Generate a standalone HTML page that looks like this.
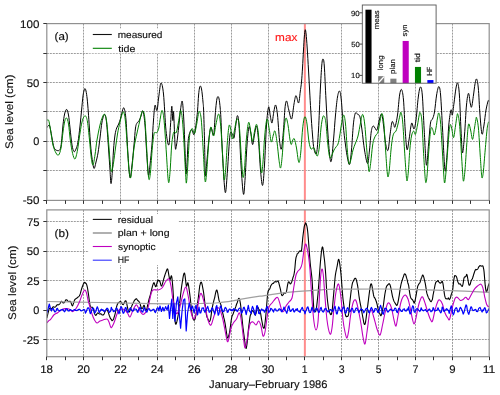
<!DOCTYPE html><html><head><meta charset="utf-8"><style>html,body{margin:0;padding:0;background:#fff;}svg{display:block;will-change:transform;}text{font-family:"Liberation Sans",sans-serif;text-rendering:geometricPrecision;}</style></head><body>
<svg width="500" height="395" viewBox="0 0 500 395">
<rect width="500" height="395" fill="#fff"/>
<defs><clipPath id="ct"><rect x="46.8" y="23.6" width="442.4" height="176.8"/></clipPath>
<clipPath id="cb"><rect x="46.8" y="209.9" width="442.4" height="146.8"/></clipPath>
<pattern id="hatch" patternUnits="userSpaceOnUse" width="3" height="3" patternTransform="rotate(45)"><rect width="3" height="3" fill="#fff"/><rect width="1.4" height="3" fill="#909090"/></pattern></defs>
<line x1="83.50" y1="23.60" x2="83.50" y2="200.40" stroke="#8a8a8a" stroke-width="0.85" stroke-dasharray="2 1"/>
<line x1="120.50" y1="23.60" x2="120.50" y2="200.40" stroke="#8a8a8a" stroke-width="0.85" stroke-dasharray="2 1"/>
<line x1="157.50" y1="23.60" x2="157.50" y2="200.40" stroke="#8a8a8a" stroke-width="0.85" stroke-dasharray="2 1"/>
<line x1="194.50" y1="23.60" x2="194.50" y2="200.40" stroke="#8a8a8a" stroke-width="0.85" stroke-dasharray="2 1"/>
<line x1="231.50" y1="23.60" x2="231.50" y2="200.40" stroke="#8a8a8a" stroke-width="0.85" stroke-dasharray="2 1"/>
<line x1="268.50" y1="23.60" x2="268.50" y2="200.40" stroke="#8a8a8a" stroke-width="0.85" stroke-dasharray="2 1"/>
<line x1="304.50" y1="23.60" x2="304.50" y2="200.40" stroke="#8a8a8a" stroke-width="0.85" stroke-dasharray="2 1"/>
<line x1="341.50" y1="23.60" x2="341.50" y2="200.40" stroke="#8a8a8a" stroke-width="0.85" stroke-dasharray="2 1"/>
<line x1="378.50" y1="23.60" x2="378.50" y2="200.40" stroke="#8a8a8a" stroke-width="0.85" stroke-dasharray="2 1"/>
<line x1="415.50" y1="23.60" x2="415.50" y2="200.40" stroke="#8a8a8a" stroke-width="0.85" stroke-dasharray="2 1"/>
<line x1="452.50" y1="23.60" x2="452.50" y2="200.40" stroke="#8a8a8a" stroke-width="0.85" stroke-dasharray="2 1"/>
<line x1="46.80" y1="53.50" x2="489.20" y2="53.50" stroke="#8a8a8a" stroke-width="0.85" stroke-dasharray="2 1"/>
<line x1="46.80" y1="82.50" x2="489.20" y2="82.50" stroke="#8a8a8a" stroke-width="0.85" stroke-dasharray="2 1"/>
<line x1="46.80" y1="111.50" x2="489.20" y2="111.50" stroke="#8a8a8a" stroke-width="0.85" stroke-dasharray="2 1"/>
<line x1="46.80" y1="141.50" x2="489.20" y2="141.50" stroke="#8a8a8a" stroke-width="0.85" stroke-dasharray="2 1"/>
<line x1="46.80" y1="170.50" x2="489.20" y2="170.50" stroke="#8a8a8a" stroke-width="0.85" stroke-dasharray="2 1"/>
<line x1="83.50" y1="209.90" x2="83.50" y2="356.70" stroke="#8a8a8a" stroke-width="0.85" stroke-dasharray="2 1"/>
<line x1="120.50" y1="209.90" x2="120.50" y2="356.70" stroke="#8a8a8a" stroke-width="0.85" stroke-dasharray="2 1"/>
<line x1="157.50" y1="209.90" x2="157.50" y2="356.70" stroke="#8a8a8a" stroke-width="0.85" stroke-dasharray="2 1"/>
<line x1="194.50" y1="209.90" x2="194.50" y2="356.70" stroke="#8a8a8a" stroke-width="0.85" stroke-dasharray="2 1"/>
<line x1="231.50" y1="209.90" x2="231.50" y2="356.70" stroke="#8a8a8a" stroke-width="0.85" stroke-dasharray="2 1"/>
<line x1="268.50" y1="209.90" x2="268.50" y2="356.70" stroke="#8a8a8a" stroke-width="0.85" stroke-dasharray="2 1"/>
<line x1="304.50" y1="209.90" x2="304.50" y2="356.70" stroke="#8a8a8a" stroke-width="0.85" stroke-dasharray="2 1"/>
<line x1="341.50" y1="209.90" x2="341.50" y2="356.70" stroke="#8a8a8a" stroke-width="0.85" stroke-dasharray="2 1"/>
<line x1="378.50" y1="209.90" x2="378.50" y2="356.70" stroke="#8a8a8a" stroke-width="0.85" stroke-dasharray="2 1"/>
<line x1="415.50" y1="209.90" x2="415.50" y2="356.70" stroke="#8a8a8a" stroke-width="0.85" stroke-dasharray="2 1"/>
<line x1="452.50" y1="209.90" x2="452.50" y2="356.70" stroke="#8a8a8a" stroke-width="0.85" stroke-dasharray="2 1"/>
<line x1="46.80" y1="221.50" x2="489.20" y2="221.50" stroke="#8a8a8a" stroke-width="0.85" stroke-dasharray="2 1"/>
<line x1="46.80" y1="251.50" x2="489.20" y2="251.50" stroke="#8a8a8a" stroke-width="0.85" stroke-dasharray="2 1"/>
<line x1="46.80" y1="280.50" x2="489.20" y2="280.50" stroke="#8a8a8a" stroke-width="0.85" stroke-dasharray="2 1"/>
<line x1="46.80" y1="310.50" x2="489.20" y2="310.50" stroke="#8a8a8a" stroke-width="0.85" stroke-dasharray="2 1"/>
<line x1="46.80" y1="339.50" x2="489.20" y2="339.50" stroke="#8a8a8a" stroke-width="0.85" stroke-dasharray="2 1"/>
<line x1="304.87" y1="23.60" x2="304.87" y2="200.40" stroke="#ff8c8c" stroke-width="2"/>
<line x1="304.87" y1="209.90" x2="304.87" y2="356.70" stroke="#ff8c8c" stroke-width="2"/>
<g clip-path="url(#ct)" fill="none" stroke-linejoin="round">
<path d="M46.80,127.50 C47.00,127.30 47.58,126.72 48.00,126.30 C48.42,125.88 48.87,124.38 49.30,125.00 C49.73,125.62 50.15,127.83 50.60,130.00 C51.05,132.17 51.43,135.08 52.00,138.00 C52.57,140.92 53.17,145.42 54.00,147.50 C54.83,149.58 56.00,150.17 57.00,150.50 C58.00,150.83 59.25,150.92 60.00,149.50 C60.75,148.08 61.00,146.08 61.50,142.00 C62.00,137.92 62.48,129.67 63.00,125.00 C63.52,120.33 64.00,116.60 64.60,114.00 C65.20,111.40 65.95,109.23 66.60,109.40 C67.25,109.57 67.93,111.90 68.50,115.00 C69.07,118.10 69.42,123.00 70.00,128.00 C70.58,133.00 71.33,141.07 72.00,145.00 C72.67,148.93 73.33,150.93 74.00,151.60 C74.67,152.27 75.33,150.60 76.00,149.00 C76.67,147.40 77.33,145.83 78.00,142.00 C78.67,138.17 79.40,131.33 80.00,126.00 C80.60,120.67 81.10,115.00 81.60,110.00 C82.10,105.00 82.57,99.33 83.00,96.00 C83.43,92.67 83.87,91.23 84.20,90.00 C84.53,88.77 84.70,88.43 85.00,88.60 C85.30,88.77 85.63,89.27 86.00,91.00 C86.37,92.73 86.82,95.50 87.20,99.00 C87.58,102.50 87.93,107.17 88.30,112.00 C88.67,116.83 89.02,122.50 89.40,128.00 C89.78,133.50 90.17,140.00 90.60,145.00 C91.03,150.00 91.43,154.10 92.00,158.00 C92.57,161.90 93.33,167.73 94.00,168.40 C94.67,169.07 95.33,164.57 96.00,162.00 C96.67,159.43 97.33,157.00 98.00,153.00 C98.67,149.00 99.33,143.17 100.00,138.00 C100.67,132.83 101.23,125.93 102.00,122.00 C102.77,118.07 103.85,114.40 104.60,114.40 C105.35,114.40 105.85,116.40 106.50,122.00 C107.15,127.60 107.92,140.00 108.50,148.00 C109.08,156.00 109.58,164.07 110.00,170.00 C110.42,175.93 110.62,183.27 111.00,183.60 C111.38,183.93 111.88,177.60 112.30,172.00 C112.72,166.40 113.05,156.17 113.50,150.00 C113.95,143.83 114.47,138.67 115.00,135.00 C115.53,131.33 116.08,129.83 116.70,128.00 C117.32,126.17 118.03,125.67 118.70,124.00 C119.37,122.33 120.05,120.33 120.70,118.00 C121.35,115.67 122.02,111.60 122.60,110.00 C123.18,108.40 123.63,106.73 124.20,108.40 C124.77,110.07 125.37,112.23 126.00,120.00 C126.63,127.77 127.33,145.40 128.00,155.00 C128.67,164.60 129.33,175.93 130.00,177.60 C130.67,179.27 131.33,170.43 132.00,165.00 C132.67,159.57 133.42,151.17 134.00,145.00 C134.58,138.83 135.00,131.67 135.50,128.00 C136.00,124.33 136.42,124.17 137.00,123.00 C137.58,121.83 138.33,122.17 139.00,121.00 C139.67,119.83 140.33,117.67 141.00,116.00 C141.67,114.33 142.33,109.50 143.00,111.00 C143.67,112.50 144.42,118.50 145.00,125.00 C145.58,131.50 145.93,141.67 146.50,150.00 C147.07,158.33 147.82,172.50 148.40,175.00 C148.98,177.50 149.40,170.17 150.00,165.00 C150.60,159.83 151.42,151.50 152.00,144.00 C152.58,136.50 153.00,126.45 153.50,120.00 C154.00,113.55 154.42,106.90 155.00,105.30 C155.58,103.70 156.33,112.12 157.00,110.40 C157.67,108.68 158.33,99.57 159.00,95.00 C159.67,90.43 160.25,83.17 161.00,83.00 C161.75,82.83 162.67,86.07 163.50,94.00 C164.33,101.93 165.12,122.10 166.00,130.60 C166.88,139.10 168.05,145.93 168.80,145.00 C169.55,144.07 170.00,131.45 170.50,125.00 C171.00,118.55 171.42,107.05 171.80,106.30 C172.18,105.55 172.50,119.48 172.80,120.50 C173.10,121.52 173.20,108.02 173.60,112.40 C174.00,116.78 174.72,141.37 175.20,146.80 C175.68,152.23 175.98,147.70 176.50,145.00 C177.02,142.30 177.63,136.43 178.30,130.60 C178.97,124.77 179.83,114.88 180.50,110.00 C181.17,105.12 181.75,99.63 182.30,101.30 C182.85,102.97 183.35,111.88 183.80,120.00 C184.25,128.12 184.63,141.00 185.00,150.00 C185.37,159.00 185.63,172.33 186.00,174.00 C186.37,175.67 186.80,165.88 187.20,160.00 C187.60,154.12 187.70,143.77 188.40,138.70 C189.10,133.63 190.48,130.27 191.40,129.60 C192.32,128.93 193.22,134.97 193.90,134.70 C194.58,134.43 195.02,130.78 195.50,128.00 C195.98,125.22 196.45,121.00 196.80,118.00 C197.15,115.00 197.30,113.83 197.60,110.00 C197.90,106.17 198.28,98.67 198.60,95.00 C198.92,91.33 199.20,89.50 199.50,88.00 C199.80,86.50 200.10,86.00 200.40,86.00 C200.70,86.00 201.02,86.83 201.30,88.00 C201.58,89.17 201.82,90.67 202.10,93.00 C202.38,95.33 202.75,99.17 203.00,102.00 C203.25,104.83 203.35,103.67 203.60,110.00 C203.85,116.33 204.20,129.07 204.50,140.00 C204.80,150.93 204.98,172.27 205.40,175.60 C205.82,178.93 206.40,166.27 207.00,160.00 C207.60,153.73 208.33,143.40 209.00,138.00 C209.67,132.60 210.23,128.10 211.00,127.60 C211.77,127.10 212.93,136.60 213.60,135.00 C214.27,133.40 214.63,122.50 215.00,118.00 C215.37,113.50 215.48,111.17 215.80,108.00 C216.12,104.83 216.53,100.90 216.90,99.00 C217.27,97.10 217.63,96.60 218.00,96.60 C218.37,96.60 218.73,97.10 219.10,99.00 C219.47,100.90 219.88,104.50 220.20,108.00 C220.52,111.50 220.70,113.83 221.00,120.00 C221.30,126.17 221.50,135.00 222.00,145.00 C222.50,155.00 223.40,172.10 224.00,180.00 C224.60,187.90 225.02,194.07 225.60,192.40 C226.18,190.73 226.77,179.57 227.50,170.00 C228.23,160.43 229.18,141.00 230.00,135.00 C230.82,129.00 231.73,133.50 232.40,134.00 C233.07,134.50 233.43,139.50 234.00,138.00 C234.57,136.50 235.23,128.73 235.80,125.00 C236.37,121.27 236.87,115.60 237.40,115.60 C237.93,115.60 238.40,116.77 239.00,125.00 C239.60,133.23 240.27,153.50 241.00,165.00 C241.73,176.50 242.73,191.50 243.40,194.00 C244.07,196.50 244.40,188.17 245.00,180.00 C245.60,171.83 246.33,153.83 247.00,145.00 C247.67,136.17 248.37,129.00 249.00,127.00 C249.63,125.00 250.20,130.07 250.80,133.00 C251.40,135.93 251.97,144.43 252.60,144.60 C253.23,144.77 253.93,137.10 254.60,134.00 C255.27,130.90 255.95,125.00 256.60,126.00 C257.25,127.00 257.85,132.67 258.50,140.00 C259.15,147.33 259.82,162.43 260.50,170.00 C261.18,177.57 261.93,186.23 262.60,185.40 C263.27,184.57 263.85,175.07 264.50,165.00 C265.15,154.93 265.82,134.67 266.50,125.00 C267.18,115.33 267.97,108.50 268.60,107.00 C269.23,105.50 269.73,113.33 270.30,116.00 C270.87,118.67 271.42,123.67 272.00,123.00 C272.58,122.33 273.20,115.00 273.80,112.00 C274.40,109.00 274.98,104.50 275.60,105.00 C276.22,105.50 276.85,109.17 277.50,115.00 C278.15,120.83 278.85,134.33 279.50,140.00 C280.15,145.67 280.73,150.67 281.40,149.00 C282.07,147.33 282.90,136.83 283.50,130.00 C284.10,123.17 284.48,112.83 285.00,108.00 C285.52,103.17 285.97,100.67 286.60,101.00 C287.23,101.33 287.97,107.00 288.80,110.00 C289.63,113.00 290.73,120.00 291.60,119.00 C292.47,118.00 293.27,107.90 294.00,104.00 C294.73,100.10 295.23,95.77 296.00,95.60 C296.77,95.43 297.90,103.60 298.60,103.00 C299.30,102.40 299.72,95.50 300.20,92.00 C300.68,88.50 301.12,86.00 301.50,82.00 C301.88,78.00 302.17,73.33 302.50,68.00 C302.83,62.67 303.20,55.17 303.50,50.00 C303.80,44.83 304.02,40.37 304.30,37.00 C304.58,33.63 304.90,30.30 305.20,29.80 C305.50,29.30 305.77,30.97 306.10,34.00 C306.43,37.03 306.80,42.00 307.20,48.00 C307.60,54.00 308.10,63.00 308.50,70.00 C308.90,77.00 309.22,83.17 309.60,90.00 C309.98,96.83 310.32,103.50 310.80,111.00 C311.28,118.50 311.97,128.67 312.50,135.00 C313.03,141.33 313.32,146.00 314.00,149.00 C314.68,152.00 315.85,156.17 316.60,153.00 C317.35,149.83 317.88,140.50 318.50,130.00 C319.12,119.50 319.75,100.83 320.30,90.00 C320.85,79.17 321.35,70.17 321.80,65.00 C322.25,59.83 322.58,58.83 323.00,59.00 C323.42,59.17 323.80,59.17 324.30,66.00 C324.80,72.83 325.38,88.50 326.00,100.00 C326.62,111.50 327.33,125.33 328.00,135.00 C328.67,144.67 329.42,153.83 330.00,158.00 C330.58,162.17 330.92,163.00 331.50,160.00 C332.08,157.00 332.83,147.50 333.50,140.00 C334.17,132.50 334.83,122.17 335.50,115.00 C336.17,107.83 336.82,101.00 337.50,97.00 C338.18,93.00 338.97,90.50 339.60,91.00 C340.23,91.50 340.70,94.33 341.30,100.00 C341.90,105.67 342.50,117.50 343.20,125.00 C343.90,132.50 344.78,139.50 345.50,145.00 C346.22,150.50 346.82,154.77 347.50,158.00 C348.18,161.23 348.93,165.73 349.60,164.40 C350.27,163.07 350.88,156.57 351.50,150.00 C352.12,143.43 352.72,131.00 353.30,125.00 C353.88,119.00 354.47,116.00 355.00,114.00 C355.53,112.00 355.92,112.83 356.50,113.00 C357.08,113.17 357.92,114.33 358.50,115.00 C359.08,115.67 359.42,114.50 360.00,117.00 C360.58,119.50 361.25,124.50 362.00,130.00 C362.75,135.50 363.57,144.40 364.50,150.00 C365.43,155.60 366.77,163.60 367.60,163.60 C368.43,163.60 368.90,155.27 369.50,150.00 C370.10,144.73 370.62,136.00 371.20,132.00 C371.78,128.00 372.37,126.67 373.00,126.00 C373.63,125.33 374.33,127.33 375.00,128.00 C375.67,128.67 376.28,131.33 377.00,130.00 C377.72,128.67 378.53,122.67 379.30,120.00 C380.07,117.33 380.90,113.17 381.60,114.00 C382.30,114.83 382.85,120.17 383.50,125.00 C384.15,129.83 384.75,138.77 385.50,143.00 C386.25,147.23 387.25,151.73 388.00,150.40 C388.75,149.07 389.33,139.73 390.00,135.00 C390.67,130.27 391.40,123.83 392.00,122.00 C392.60,120.17 393.10,123.17 393.60,124.00 C394.10,124.83 394.35,128.50 395.00,127.00 C395.65,125.50 396.73,120.33 397.50,115.00 C398.27,109.67 398.92,99.23 399.60,95.00 C400.28,90.77 400.95,88.77 401.60,89.60 C402.25,90.43 402.90,93.27 403.50,100.00 C404.10,106.73 404.62,121.73 405.20,130.00 C405.78,138.27 406.37,147.93 407.00,149.60 C407.63,151.27 408.37,143.77 409.00,140.00 C409.63,136.23 410.30,129.83 410.80,127.00 C411.30,124.17 411.47,122.67 412.00,123.00 C412.53,123.33 413.33,129.50 414.00,129.00 C414.67,128.50 415.28,125.33 416.00,120.00 C416.72,114.67 417.57,102.50 418.30,97.00 C419.03,91.50 419.73,87.33 420.40,87.00 C421.07,86.67 421.67,87.83 422.30,95.00 C422.93,102.17 423.52,118.33 424.20,130.00 C424.88,141.67 425.68,162.50 426.40,165.00 C427.12,167.50 427.82,152.00 428.50,145.00 C429.18,138.00 429.83,127.33 430.50,123.00 C431.17,118.67 431.83,120.83 432.50,119.00 C433.17,117.17 433.82,116.00 434.50,112.00 C435.18,108.00 435.88,99.23 436.60,95.00 C437.32,90.77 438.13,86.60 438.80,86.60 C439.47,86.60 439.97,87.77 440.60,95.00 C441.23,102.23 441.87,117.43 442.60,130.00 C443.33,142.57 444.27,166.23 445.00,170.40 C445.73,174.57 446.37,162.57 447.00,155.00 C447.63,147.43 448.13,132.50 448.80,125.00 C449.47,117.50 450.42,111.67 451.00,110.00 C451.58,108.33 451.80,116.17 452.30,115.00 C452.80,113.83 453.38,107.50 454.00,103.00 C454.62,98.50 455.38,91.33 456.00,88.00 C456.62,84.67 457.13,81.83 457.70,83.00 C458.27,84.17 458.85,87.17 459.40,95.00 C459.95,102.83 460.48,120.37 461.00,130.00 C461.52,139.63 461.92,151.97 462.50,152.80 C463.08,153.63 463.83,142.97 464.50,135.00 C465.17,127.03 465.83,111.95 466.50,105.00 C467.17,98.05 467.88,93.63 468.50,93.30 C469.12,92.97 469.68,100.72 470.20,103.00 C470.72,105.28 471.05,108.33 471.60,107.00 C472.15,105.67 472.93,98.83 473.50,95.00 C474.07,91.17 474.48,86.67 475.00,84.00 C475.52,81.33 476.05,78.33 476.60,79.00 C477.15,79.67 477.73,82.00 478.30,88.00 C478.87,94.00 479.38,107.33 480.00,115.00 C480.62,122.67 481.33,132.33 482.00,134.00 C482.67,135.67 483.33,129.00 484.00,125.00 C484.67,121.00 485.28,114.08 486.00,110.00 C486.72,105.92 487.77,101.83 488.30,100.50 C488.83,99.17 489.05,101.75 489.20,102.00" stroke="#000" stroke-width="1.0"/>
<path d="M46.80,121.00 C46.97,120.77 47.43,119.52 47.80,119.60 C48.17,119.68 48.55,119.77 49.00,121.50 C49.45,123.23 49.83,126.08 50.50,130.00 C51.17,133.92 52.08,141.17 53.00,145.00 C53.92,148.83 55.07,151.33 56.00,153.00 C56.93,154.67 57.77,155.83 58.60,155.00 C59.43,154.17 60.27,151.83 61.00,148.00 C61.73,144.17 62.37,136.50 63.00,132.00 C63.63,127.50 64.20,123.33 64.80,121.00 C65.40,118.67 65.98,117.50 66.60,118.00 C67.22,118.50 67.88,120.33 68.50,124.00 C69.12,127.67 69.63,135.17 70.30,140.00 C70.97,144.83 71.72,149.83 72.50,153.00 C73.28,156.17 74.17,159.50 75.00,159.00 C75.83,158.50 76.67,154.33 77.50,150.00 C78.33,145.67 79.25,137.67 80.00,133.00 C80.75,128.33 81.37,124.67 82.00,122.00 C82.63,119.33 83.20,118.00 83.80,117.00 C84.40,116.00 84.98,115.17 85.60,116.00 C86.22,116.83 86.85,118.00 87.50,122.00 C88.15,126.00 88.87,134.00 89.50,140.00 C90.13,146.00 90.72,153.83 91.30,158.00 C91.88,162.17 92.38,165.50 93.00,165.00 C93.62,164.50 94.33,159.17 95.00,155.00 C95.67,150.83 96.17,145.00 97.00,140.00 C97.83,135.00 99.08,128.83 100.00,125.00 C100.92,121.17 101.73,118.77 102.50,117.00 C103.27,115.23 103.90,113.57 104.60,114.40 C105.30,115.23 106.00,116.90 106.70,122.00 C107.40,127.10 108.22,138.17 108.80,145.00 C109.38,151.83 109.73,158.57 110.20,163.00 C110.67,167.43 111.05,171.60 111.60,171.60 C112.15,171.60 112.85,166.93 113.50,163.00 C114.15,159.07 114.83,152.83 115.50,148.00 C116.17,143.17 116.75,138.33 117.50,134.00 C118.25,129.67 119.28,125.17 120.00,122.00 C120.72,118.83 121.20,116.67 121.80,115.00 C122.40,113.33 122.98,110.83 123.60,112.00 C124.22,113.17 124.85,115.67 125.50,122.00 C126.15,128.33 126.92,142.00 127.50,150.00 C128.08,158.00 128.50,165.33 129.00,170.00 C129.50,174.67 130.00,178.33 130.50,178.00 C131.00,177.67 131.42,173.00 132.00,168.00 C132.58,163.00 133.17,153.83 134.00,148.00 C134.83,142.17 136.08,137.33 137.00,133.00 C137.92,128.67 138.78,125.17 139.50,122.00 C140.22,118.83 140.72,115.83 141.30,114.00 C141.88,112.17 142.42,110.33 143.00,111.00 C143.58,111.67 144.22,112.33 144.80,118.00 C145.38,123.67 146.00,136.67 146.50,145.00 C147.00,153.33 147.38,162.23 147.80,168.00 C148.22,173.77 148.55,178.93 149.00,179.60 C149.45,180.27 149.95,177.27 150.50,172.00 C151.05,166.73 151.72,154.33 152.30,148.00 C152.88,141.67 153.47,136.58 154.00,134.00 C154.53,131.42 155.00,132.77 155.50,132.50 C156.00,132.23 156.45,133.15 157.00,132.40 C157.55,131.65 158.22,130.57 158.80,128.00 C159.38,125.43 159.97,119.93 160.50,117.00 C161.03,114.07 161.47,110.40 162.00,110.40 C162.53,110.40 163.17,112.90 163.70,117.00 C164.23,121.10 164.73,128.67 165.20,135.00 C165.67,141.33 166.03,147.83 166.50,155.00 C166.97,162.17 167.58,173.50 168.00,178.00 C168.42,182.50 168.62,183.67 169.00,182.00 C169.38,180.33 169.87,174.00 170.30,168.00 C170.73,162.00 171.15,151.50 171.60,146.00 C172.05,140.50 172.57,137.40 173.00,135.00 C173.43,132.60 173.65,132.00 174.20,131.60 C174.75,131.20 175.58,134.20 176.30,132.60 C177.02,131.00 177.77,125.70 178.50,122.00 C179.23,118.30 180.02,110.40 180.70,110.40 C181.38,110.40 181.98,115.27 182.60,122.00 C183.22,128.73 183.92,142.47 184.40,150.80 C184.88,159.13 185.17,166.63 185.50,172.00 C185.83,177.37 186.02,184.17 186.40,183.00 C186.78,181.83 187.30,172.55 187.80,165.00 C188.30,157.45 188.90,143.37 189.40,137.70 C189.90,132.03 190.30,132.52 190.80,131.00 C191.30,129.48 191.78,128.17 192.40,128.60 C193.02,129.03 193.78,134.37 194.50,133.60 C195.22,132.83 196.07,127.18 196.70,124.00 C197.33,120.82 197.83,116.60 198.30,114.50 C198.77,112.40 199.00,110.48 199.50,111.40 C200.00,112.32 200.68,113.57 201.30,120.00 C201.92,126.43 202.68,141.33 203.20,150.00 C203.72,158.67 204.03,166.67 204.40,172.00 C204.77,177.33 205.02,182.00 205.40,182.00 C205.78,182.00 206.23,177.33 206.70,172.00 C207.17,166.67 207.72,156.33 208.20,150.00 C208.68,143.67 209.13,137.83 209.60,134.00 C210.07,130.17 210.33,126.67 211.00,127.00 C211.67,127.33 212.77,136.50 213.60,136.00 C214.43,135.50 215.17,127.67 216.00,124.00 C216.83,120.33 217.85,114.00 218.60,114.00 C219.35,114.00 219.88,118.00 220.50,124.00 C221.12,130.00 221.80,142.33 222.30,150.00 C222.80,157.67 223.15,165.00 223.50,170.00 C223.85,175.00 224.02,180.33 224.40,180.00 C224.78,179.67 225.32,174.17 225.80,168.00 C226.28,161.83 226.77,150.00 227.30,143.00 C227.83,136.00 228.47,128.50 229.00,126.00 C229.53,123.50 229.93,125.83 230.50,128.00 C231.07,130.17 231.73,138.67 232.40,139.00 C233.07,139.33 233.87,133.00 234.50,130.00 C235.13,127.00 235.68,122.83 236.20,121.00 C236.72,119.17 237.08,118.17 237.60,119.00 C238.12,119.83 238.70,120.00 239.30,126.00 C239.90,132.00 240.68,147.33 241.20,155.00 C241.72,162.67 242.05,168.27 242.40,172.00 C242.75,175.73 242.93,178.07 243.30,177.40 C243.67,176.73 244.10,174.23 244.60,168.00 C245.10,161.77 245.63,147.60 246.30,140.00 C246.97,132.40 247.85,123.73 248.60,122.40 C249.35,121.07 250.13,128.82 250.80,132.00 C251.47,135.18 251.97,141.67 252.60,141.50 C253.23,141.33 253.93,133.85 254.60,131.00 C255.27,128.15 255.95,123.73 256.60,124.40 C257.25,125.07 257.90,129.07 258.50,135.00 C259.10,140.93 259.68,153.67 260.20,160.00 C260.72,166.33 261.13,172.67 261.60,173.00 C262.07,173.33 262.47,168.33 263.00,162.00 C263.53,155.67 264.13,142.17 264.80,135.00 C265.47,127.83 266.27,120.00 267.00,119.00 C267.73,118.00 268.48,125.17 269.20,129.00 C269.92,132.83 270.62,141.00 271.30,142.00 C271.98,143.00 272.68,136.83 273.30,135.00 C273.92,133.17 274.38,129.83 275.00,131.00 C275.62,132.17 276.33,137.17 277.00,142.00 C277.67,146.83 278.40,155.67 279.00,160.00 C279.60,164.33 280.05,168.83 280.60,168.00 C281.15,167.17 281.70,161.67 282.30,155.00 C282.90,148.33 283.58,134.17 284.20,128.00 C284.82,121.83 285.37,118.50 286.00,118.00 C286.63,117.50 287.33,121.33 288.00,125.00 C288.67,128.67 289.45,136.75 290.00,140.00 C290.55,143.25 290.83,144.50 291.30,144.50 C291.77,144.50 292.28,140.92 292.80,140.00 C293.32,139.08 293.78,137.67 294.40,139.00 C295.02,140.33 295.87,144.50 296.50,148.00 C297.13,151.50 297.72,157.67 298.20,160.00 C298.68,162.33 298.97,163.33 299.40,162.00 C299.83,160.67 300.28,157.33 300.80,152.00 C301.32,146.67 301.97,135.50 302.50,130.00 C303.03,124.50 303.52,121.17 304.00,119.00 C304.48,116.83 304.90,116.17 305.40,117.00 C305.90,117.83 306.40,119.83 307.00,124.00 C307.60,128.17 308.33,137.83 309.00,142.00 C309.67,146.17 310.42,148.00 311.00,149.00 C311.58,150.00 312.00,148.17 312.50,148.00 C313.00,147.83 313.45,147.17 314.00,148.00 C314.55,148.83 315.23,151.67 315.80,153.00 C316.37,154.33 316.83,156.83 317.40,156.00 C317.97,155.17 318.60,152.67 319.20,148.00 C319.80,143.33 320.43,133.00 321.00,128.00 C321.57,123.00 322.10,120.00 322.60,118.00 C323.10,116.00 323.47,115.33 324.00,116.00 C324.53,116.67 325.20,117.67 325.80,122.00 C326.40,126.33 327.03,136.50 327.60,142.00 C328.17,147.50 328.72,152.33 329.20,155.00 C329.68,157.67 330.03,158.00 330.50,158.00 C330.97,158.00 331.42,156.33 332.00,155.00 C332.58,153.67 333.33,151.33 334.00,150.00 C334.67,148.67 335.33,148.00 336.00,147.00 C336.67,146.00 337.38,145.83 338.00,144.00 C338.62,142.17 339.12,139.33 339.70,136.00 C340.28,132.67 340.85,127.50 341.50,124.00 C342.15,120.50 342.93,115.00 343.60,115.00 C344.27,115.00 344.88,118.17 345.50,124.00 C346.12,129.83 346.72,143.40 347.30,150.00 C347.88,156.60 348.42,161.93 349.00,163.60 C349.58,165.27 350.13,162.27 350.80,160.00 C351.47,157.73 352.22,152.83 353.00,150.00 C353.78,147.17 354.67,145.33 355.50,143.00 C356.33,140.67 357.17,139.33 358.00,136.00 C358.83,132.67 359.73,126.60 360.50,123.00 C361.27,119.40 361.90,114.23 362.60,114.40 C363.30,114.57 364.00,118.07 364.70,124.00 C365.40,129.93 366.20,143.00 366.80,150.00 C367.40,157.00 367.88,162.40 368.30,166.00 C368.72,169.60 368.88,172.27 369.30,171.60 C369.72,170.93 370.27,166.27 370.80,162.00 C371.33,157.73 371.97,149.83 372.50,146.00 C373.03,142.17 373.42,140.83 374.00,139.00 C374.58,137.17 375.33,136.17 376.00,135.00 C376.67,133.83 377.33,134.33 378.00,132.00 C378.67,129.67 379.33,124.07 380.00,121.00 C380.67,117.93 381.37,113.27 382.00,113.60 C382.63,113.93 383.20,116.93 383.80,123.00 C384.40,129.07 385.07,142.17 385.60,150.00 C386.13,157.83 386.60,165.50 387.00,170.00 C387.40,174.50 387.62,177.00 388.00,177.00 C388.38,177.00 388.80,174.50 389.30,170.00 C389.80,165.50 390.47,155.33 391.00,150.00 C391.53,144.67 392.00,140.83 392.50,138.00 C393.00,135.17 393.42,134.17 394.00,133.00 C394.58,131.83 395.33,132.50 396.00,131.00 C396.67,129.50 397.37,126.50 398.00,124.00 C398.63,121.50 399.30,117.93 399.80,116.00 C400.30,114.07 400.52,111.40 401.00,112.40 C401.48,113.40 402.12,115.73 402.70,122.00 C403.28,128.27 403.95,141.67 404.50,150.00 C405.05,158.33 405.58,166.83 406.00,172.00 C406.42,177.17 406.62,181.00 407.00,181.00 C407.38,181.00 407.83,177.17 408.30,172.00 C408.77,166.83 409.27,156.00 409.80,150.00 C410.33,144.00 410.87,139.17 411.50,136.00 C412.13,132.83 412.95,131.27 413.60,131.00 C414.25,130.73 414.75,135.40 415.40,134.40 C416.05,133.40 416.90,128.07 417.50,125.00 C418.10,121.93 418.58,118.10 419.00,116.00 C419.42,113.90 419.53,111.73 420.00,112.40 C420.47,113.07 421.23,113.73 421.80,120.00 C422.37,126.27 422.90,141.17 423.40,150.00 C423.90,158.83 424.40,167.57 424.80,173.00 C425.20,178.43 425.43,182.10 425.80,182.60 C426.17,183.10 426.52,181.10 427.00,176.00 C427.48,170.90 428.15,159.17 428.70,152.00 C429.25,144.83 429.82,137.08 430.30,133.00 C430.78,128.92 431.15,127.92 431.60,127.50 C432.05,127.08 432.55,129.25 433.00,130.50 C433.45,131.75 433.80,135.42 434.30,135.00 C434.80,134.58 435.47,130.83 436.00,128.00 C436.53,125.17 437.03,120.50 437.50,118.00 C437.97,115.50 438.30,112.33 438.80,113.00 C439.30,113.67 439.92,115.83 440.50,122.00 C441.08,128.17 441.78,141.67 442.30,150.00 C442.82,158.33 443.22,166.50 443.60,172.00 C443.98,177.50 444.20,183.00 444.60,183.00 C445.00,183.00 445.48,177.50 446.00,172.00 C446.52,166.50 447.17,156.83 447.70,150.00 C448.23,143.17 448.73,135.25 449.20,131.00 C449.67,126.75 450.03,124.67 450.50,124.50 C450.97,124.33 451.48,127.82 452.00,130.00 C452.52,132.18 453.02,138.27 453.60,137.60 C454.18,136.93 454.97,129.43 455.50,126.00 C456.03,122.57 456.43,119.00 456.80,117.00 C457.17,115.00 457.25,112.83 457.70,114.00 C458.15,115.17 458.92,118.00 459.50,124.00 C460.08,130.00 460.70,142.17 461.20,150.00 C461.70,157.83 462.12,165.80 462.50,171.00 C462.88,176.20 463.08,181.37 463.50,181.20 C463.92,181.03 464.47,176.03 465.00,170.00 C465.53,163.97 466.20,152.00 466.70,145.00 C467.20,138.00 467.62,131.50 468.00,128.00 C468.38,124.50 468.53,123.50 469.00,124.00 C469.47,124.50 470.20,128.43 470.80,131.00 C471.40,133.57 471.98,139.90 472.60,139.40 C473.22,138.90 473.97,131.23 474.50,128.00 C475.03,124.77 475.45,121.73 475.80,120.00 C476.15,118.27 476.17,116.27 476.60,117.60 C477.03,118.93 477.80,121.77 478.40,128.00 C479.00,134.23 479.73,148.00 480.20,155.00 C480.67,162.00 480.90,166.17 481.20,170.00 C481.50,173.83 481.65,177.67 482.00,178.00 C482.35,178.33 482.77,176.67 483.30,172.00 C483.83,167.33 484.58,157.00 485.20,150.00 C485.82,143.00 486.48,134.55 487.00,130.00 C487.52,125.45 487.93,124.03 488.30,122.70 C488.67,121.37 489.05,122.12 489.20,122.00" stroke="#008000" stroke-width="1.0"/>
</g>
<g clip-path="url(#cb)" fill="none" stroke-linejoin="round">
<path d="M46.80,318.16 L46.96,317.50 L47.18,316.59 L47.44,315.51 L47.73,314.35 L48.02,313.20 L48.30,312.10 L48.56,311.08 L48.83,310.07 L49.10,309.06 L49.38,308.33 L49.68,308.28 L50.00,308.34 L50.23,308.45 L50.49,308.62 L50.75,308.75 L51.02,308.83 L51.30,308.93 L51.57,308.90 L51.83,308.51 L52.08,308.14 L52.30,307.78 L52.59,307.35 L52.83,307.11 L53.06,306.89 L53.28,306.76 L53.52,306.80 L53.80,306.90 L54.04,307.00 L54.30,307.13 L54.56,307.28 L54.84,307.20 L55.13,307.10 L55.42,306.92 L55.71,306.64 L56.00,306.36 L56.26,305.89 L56.54,305.41 L56.82,305.05 L57.10,304.85 L57.38,304.66 L57.66,304.78 L57.92,304.89 L58.17,304.94 L58.40,304.83 L58.70,304.65 L58.97,304.49 L59.21,304.33 L59.43,304.15 L59.66,303.90 L59.90,303.60 L60.15,303.24 L60.39,302.76 L60.62,302.24 L60.87,301.77 L61.13,301.45 L61.40,301.29 L61.65,301.33 L61.90,301.54 L62.17,301.83 L62.44,302.19 L62.72,302.54 L63.00,302.78 L63.30,302.98 L63.54,302.98 L63.78,302.87 L64.03,302.72 L64.28,302.51 L64.54,302.14 L64.80,301.65 L65.06,301.20 L65.33,300.64 L65.60,300.14 L65.85,299.84 L66.11,299.81 L66.38,299.83 L66.65,299.90 L66.92,300.03 L67.20,300.17 L67.46,300.53 L67.72,300.88 L67.97,301.16 L68.20,301.28 L68.51,301.41 L68.81,301.45 L69.10,301.44 L69.37,301.40 L69.63,301.28 L69.87,301.20 L70.10,301.24 L70.45,301.58 L70.75,302.06 L71.02,302.72 L71.30,303.39 L71.58,304.13 L71.86,304.95 L72.13,305.63 L72.40,305.86 L72.67,305.61 L72.93,305.00 L73.20,304.18 L73.50,303.30 L73.72,302.66 L73.94,301.94 L74.18,301.16 L74.43,300.48 L74.70,299.86 L75.00,299.38 L75.22,299.19 L75.46,299.04 L75.71,298.88 L75.97,298.67 L76.23,298.48 L76.50,298.32 L76.77,298.17 L77.04,297.99 L77.30,297.72 L77.56,297.45 L77.82,297.23 L78.08,297.04 L78.34,296.84 L78.61,296.64 L78.86,296.41 L79.12,296.12 L79.36,295.79 L79.60,295.36 L79.89,294.70 L80.17,294.01 L80.44,293.20 L80.70,292.21 L80.96,291.19 L81.23,290.21 L81.50,289.28 L81.74,288.54 L81.99,287.79 L82.24,287.03 L82.49,286.30 L82.74,285.60 L82.99,284.94 L83.24,284.34 L83.50,283.84 L83.76,283.39 L84.03,282.97 L84.31,282.62 L84.59,282.32 L84.86,282.37 L85.12,282.70 L85.37,283.11 L85.60,283.10 L85.93,283.24 L86.22,283.62 L86.48,284.18 L86.74,284.92 L87.00,285.77 L87.26,286.78 L87.51,288.01 L87.76,289.62 L88.02,291.33 L88.30,293.11 L88.55,294.75 L88.79,296.54 L89.04,298.60 L89.32,300.80 L89.64,302.92 L90.00,304.93 L90.20,305.86 L90.42,306.47 L90.66,306.81 L90.90,307.10 L91.16,307.22 L91.42,307.23 L91.68,307.22 L91.95,307.21 L92.22,307.21 L92.48,307.35 L92.75,307.78 L93.00,308.25 L93.25,308.82 L93.50,309.46 L93.75,310.15 L94.00,311.23 L94.25,312.43 L94.50,313.61 L94.75,314.11 L95.00,314.58 L95.25,314.97 L95.50,315.21 L95.75,315.37 L96.00,315.32 L96.25,315.02 L96.49,314.61 L96.73,314.19 L96.96,313.78 L97.20,313.32 L97.44,313.07 L97.68,312.99 L97.93,312.92 L98.18,313.01 L98.44,313.20 L98.71,313.46 L99.00,313.63 L99.22,313.83 L99.46,314.01 L99.70,313.96 L99.95,313.94 L100.21,313.92 L100.47,313.90 L100.73,313.89 L101.00,313.97 L101.27,314.07 L101.53,314.19 L101.79,314.55 L102.05,314.88 L102.30,315.06 L102.54,315.02 L102.78,314.92 L103.00,314.89 L103.29,314.90 L103.56,314.78 L103.82,314.44 L104.07,314.01 L104.32,313.52 L104.56,312.84 L104.80,312.18 L105.04,311.55 L105.27,310.99 L105.51,310.53 L105.75,310.16 L106.00,309.85 L106.25,309.67 L106.50,309.62 L106.75,309.69 L107.00,309.83 L107.25,310.15 L107.50,310.59 L107.75,311.08 L108.00,311.71 L108.25,312.39 L108.50,313.08 L108.75,313.88 L109.00,314.66 L109.25,315.43 L109.50,316.00 L109.75,316.65 L110.00,317.33 L110.25,317.99 L110.50,318.65 L110.75,319.01 L111.00,319.12 L111.25,319.15 L111.50,319.71 L111.75,320.28 L112.00,320.67 L112.25,320.62 L112.51,320.40 L112.77,320.12 L113.04,319.93 L113.30,319.63 L113.56,319.02 L113.82,318.21 L114.07,317.37 L114.32,316.58 L114.56,315.82 L114.79,315.09 L115.00,314.26 L115.30,313.05 L115.57,311.80 L115.82,310.51 L116.06,309.22 L116.29,308.04 L116.52,307.02 L116.76,306.07 L117.00,305.32 L117.24,304.78 L117.48,304.23 L117.71,303.70 L117.94,303.24 L118.18,302.88 L118.43,302.60 L118.70,302.43 L119.00,302.47 L119.21,302.18 L119.43,302.02 L119.66,301.94 L119.89,301.81 L120.13,301.70 L120.38,301.61 L120.63,301.74 L120.89,301.86 L121.16,302.04 L121.43,302.48 L121.71,302.85 L122.00,303.43 L122.22,303.90 L122.46,304.32 L122.70,304.49 L122.95,304.57 L123.21,304.61 L123.47,304.28 L123.73,303.93 L124.00,303.48 L124.27,302.88 L124.53,302.31 L124.79,301.72 L125.05,301.17 L125.30,300.70 L125.54,300.70 L125.78,300.80 L126.00,301.00 L126.29,301.90 L126.57,303.00 L126.84,304.21 L127.11,305.47 L127.37,306.81 L127.62,307.96 L127.87,309.07 L128.11,310.12 L128.34,310.81 L128.57,311.37 L128.79,311.75 L129.00,311.99 L129.30,311.99 L129.57,311.64 L129.82,311.03 L130.06,310.23 L130.29,309.39 L130.52,308.60 L130.76,307.85 L131.00,307.33 L131.24,307.04 L131.46,306.69 L131.68,306.25 L131.90,305.68 L132.13,305.13 L132.39,304.57 L132.67,303.99 L133.00,303.46 L133.21,302.97 L133.44,302.44 L133.69,301.90 L133.95,301.37 L134.22,300.84 L134.49,300.38 L134.77,300.05 L135.06,299.74 L135.34,299.47 L135.61,299.23 L135.88,299.03 L136.13,298.88 L136.38,298.78 L136.60,298.86 L136.92,299.29 L137.21,299.79 L137.49,300.12 L137.74,300.53 L137.99,300.83 L138.24,300.89 L138.48,300.99 L138.74,301.25 L139.00,301.63 L139.25,302.03 L139.49,302.44 L139.74,302.89 L139.99,303.39 L140.24,304.34 L140.50,305.28 L140.75,306.18 L141.00,307.08 L141.25,307.85 L141.50,308.37 L141.75,308.54 L142.01,308.54 L142.27,308.42 L142.52,308.22 L142.78,307.96 L143.04,307.22 L143.29,306.47 L143.53,305.84 L143.77,305.44 L144.00,305.22 L144.27,305.37 L144.51,306.13 L144.74,307.05 L144.97,308.03 L145.20,308.99 L145.44,309.79 L145.71,310.30 L146.00,310.42 L146.21,310.26 L146.44,309.86 L146.68,309.27 L146.93,308.56 L147.18,307.47 L147.44,306.16 L147.70,304.80 L147.96,303.70 L148.23,302.60 L148.49,301.49 L148.75,300.42 L149.00,299.40 L149.25,298.51 L149.51,297.65 L149.77,296.75 L150.04,295.87 L150.30,294.98 L150.56,294.03 L150.82,292.94 L151.07,291.88 L151.32,290.84 L151.56,289.82 L151.79,288.88 L152.00,288.05 L152.30,286.95 L152.57,285.96 L152.82,285.08 L153.06,284.31 L153.29,283.65 L153.52,283.20 L153.76,282.88 L154.00,282.69 L154.25,283.08 L154.50,283.75 L154.75,284.57 L155.00,285.30 L155.25,286.03 L155.50,286.54 L155.75,286.65 L156.00,286.49 L156.25,285.92 L156.50,285.03 L156.75,283.96 L157.00,282.98 L157.25,282.03 L157.50,281.15 L157.75,280.52 L158.00,280.12 L158.25,280.02 L158.51,280.40 L158.77,280.88 L159.03,281.01 L159.28,280.77 L159.53,280.59 L159.77,280.46 L160.00,282.00 L160.28,282.63 L160.53,283.56 L160.77,284.56 L161.02,285.44 L161.29,285.99 L161.60,286.00 L161.83,285.63 L162.09,284.99 L162.36,284.15 L162.63,283.16 L162.92,282.08 L163.20,280.96 L163.48,279.87 L163.75,278.87 L164.00,278.00 L164.27,277.13 L164.54,276.29 L164.80,275.47 L165.05,274.69 L165.30,273.94 L165.54,273.24 L165.77,272.59 L166.00,272.00 L166.29,271.21 L166.57,270.41 L166.84,269.69 L167.10,269.15 L167.35,268.89 L167.60,269.00 L167.90,269.81 L168.19,271.22 L168.48,272.94 L168.75,274.63 L169.00,276.00 L169.26,277.40 L169.49,278.69 L169.72,279.63 L170.00,280.00 L170.23,279.59 L170.50,278.59 L170.77,277.38 L171.06,276.30 L171.34,275.72 L171.60,276.00 L171.90,277.58 L172.19,280.11 L172.48,283.25 L172.75,286.66 L173.00,290.00 L173.26,294.27 L173.49,298.88 L173.72,303.55 L174.00,308.00 L174.22,311.06 L174.46,314.37 L174.71,317.62 L174.99,320.52 L175.28,322.75 L175.60,324.00 L175.83,324.21 L176.09,323.99 L176.36,323.41 L176.63,322.53 L176.92,321.42 L177.20,320.15 L177.48,318.78 L177.75,317.37 L178.00,316.00 L178.27,314.38 L178.53,312.56 L178.78,310.59 L179.03,308.50 L179.27,306.35 L179.51,304.19 L179.75,302.05 L180.00,300.00 L180.25,297.97 L180.49,295.88 L180.73,293.78 L180.97,291.69 L181.22,289.63 L181.47,287.65 L181.73,285.76 L182.00,284.00 L182.25,282.43 L182.51,280.76 L182.79,279.07 L183.06,277.45 L183.34,275.97 L183.61,274.70 L183.89,273.74 L184.15,273.14 L184.40,273.00 L184.67,273.59 L184.94,274.94 L185.20,276.82 L185.45,279.00 L185.70,281.24 L185.94,283.31 L186.17,284.98 L186.40,286.00 L186.69,286.24 L186.95,285.59 L187.20,284.50 L187.45,283.41 L187.71,282.76 L188.00,283.00 L188.23,283.81 L188.46,284.96 L188.70,286.40 L188.95,288.06 L189.20,289.91 L189.46,291.88 L189.73,293.93 L190.00,296.00 L190.25,298.01 L190.50,300.30 L190.76,302.78 L191.03,305.34 L191.30,307.89 L191.57,310.33 L191.85,312.56 L192.12,314.49 L192.40,316.00 L192.65,317.09 L192.90,318.04 L193.15,318.84 L193.41,319.48 L193.66,319.94 L193.92,320.20 L194.18,320.25 L194.45,320.08 L194.72,319.67 L195.00,319.00 L195.24,318.19 L195.48,317.10 L195.73,315.78 L195.99,314.27 L196.24,312.61 L196.50,310.84 L196.76,308.99 L197.01,307.10 L197.27,305.22 L197.52,303.39 L197.76,301.63 L198.00,300.00 L198.28,298.02 L198.55,295.85 L198.82,293.59 L199.08,291.31 L199.34,289.09 L199.59,287.00 L199.85,285.13 L200.10,284.72 L200.35,283.51 L200.60,282.75 L200.88,282.25 L201.15,282.14 L201.43,282.45 L201.70,283.01 L201.97,283.82 L202.24,285.03 L202.50,286.50 L202.75,287.94 L203.00,289.20 L203.27,290.54 L203.53,292.04 L203.78,294.04 L204.03,296.09 L204.27,298.14 L204.51,300.06 L204.75,302.01 L205.00,303.78 L205.24,305.39 L205.48,307.20 L205.71,309.17 L205.94,311.22 L206.18,313.18 L206.43,314.86 L206.70,316.16 L207.00,317.08 L207.22,317.57 L207.45,317.94 L207.70,318.22 L207.96,318.96 L208.23,319.62 L208.50,320.25 L208.77,320.88 L209.04,321.43 L209.30,321.49 L209.55,321.35 L209.78,321.14 L210.00,320.70 L210.29,319.84 L210.55,318.77 L210.78,317.54 L211.00,316.14 L211.22,314.60 L211.45,312.82 L211.71,310.96 L212.00,309.16 L212.22,308.02 L212.45,306.76 L212.69,305.54 L212.94,304.48 L213.20,303.40 L213.46,302.28 L213.73,301.15 L213.99,300.08 L214.25,299.11 L214.51,298.26 L214.76,297.33 L215.00,295.96 L215.28,294.49 L215.56,293.18 L215.83,292.03 L216.10,291.00 L216.36,290.42 L216.62,289.97 L216.88,289.95 L217.12,290.70 L217.37,291.57 L217.60,292.51 L217.88,293.87 L218.13,295.53 L218.38,296.85 L218.61,298.14 L218.85,299.52 L219.09,300.55 L219.33,301.37 L219.60,301.98 L219.85,302.45 L220.11,302.86 L220.39,303.36 L220.66,304.13 L220.94,304.89 L221.21,306.13 L221.49,307.52 L221.75,308.86 L222.00,310.10 L222.27,311.45 L222.53,312.53 L222.78,313.38 L223.03,314.25 L223.27,315.23 L223.51,316.30 L223.75,317.45 L224.00,318.36 L224.25,319.34 L224.51,320.46 L224.77,321.78 L225.03,323.14 L225.29,324.62 L225.54,326.27 L225.77,327.81 L226.00,329.22 L226.27,331.01 L226.52,332.72 L226.75,334.43 L226.98,335.99 L227.23,337.28 L227.50,337.85 L227.73,337.92 L227.96,337.82 L228.21,337.34 L228.46,336.64 L228.72,335.77 L228.98,334.87 L229.24,333.79 L229.50,332.60 L229.76,331.21 L230.01,329.44 L230.27,327.50 L230.52,325.47 L230.79,323.42 L231.05,321.45 L231.32,319.69 L231.60,318.18 L231.86,316.96 L232.12,315.92 L232.39,315.27 L232.67,314.84 L232.94,314.39 L233.22,313.56 L233.49,312.73 L233.75,312.08 L234.00,311.51 L234.27,310.83 L234.52,310.13 L234.76,309.44 L234.99,308.75 L235.23,308.14 L235.47,307.53 L235.73,306.89 L236.00,306.01 L236.23,305.23 L236.48,304.48 L236.74,303.90 L237.01,303.31 L237.28,302.48 L237.55,301.57 L237.81,300.73 L238.06,299.87 L238.29,299.16 L238.50,298.66 L238.81,298.32 L239.07,298.33 L239.31,298.69 L239.54,299.34 L239.76,300.18 L240.00,301.25 L240.25,302.58 L240.50,304.12 L240.75,306.13 L241.00,308.51 L241.25,311.05 L241.50,313.22 L241.75,315.52 L242.00,318.13 L242.25,320.64 L242.50,323.18 L242.75,325.59 L243.00,327.70 L243.25,329.60 L243.50,331.52 L243.75,333.51 L244.00,335.38 L244.25,337.33 L244.50,339.29 L244.75,341.20 L245.00,343.10 L245.25,344.87 L245.50,346.37 L245.75,347.65 L246.00,348.41 L246.25,348.43 L246.50,347.25 L246.75,345.67 L247.00,343.83 L247.25,341.81 L247.50,339.65 L247.75,337.11 L248.00,334.13 L248.25,330.93 L248.50,328.52 L248.75,326.43 L249.00,324.62 L249.24,322.74 L249.46,320.89 L249.69,319.15 L249.93,317.42 L250.19,315.94 L250.50,314.84 L250.71,314.45 L250.93,314.21 L251.16,313.86 L251.40,312.93 L251.66,312.05 L251.92,311.39 L252.18,311.00 L252.45,310.64 L252.73,310.75 L253.00,310.97 L253.24,311.19 L253.48,311.57 L253.74,312.02 L254.00,312.57 L254.27,313.25 L254.53,313.94 L254.80,314.41 L255.06,314.78 L255.31,315.08 L255.55,314.58 L255.78,314.04 L256.00,313.44 L256.30,312.16 L256.57,310.72 L256.82,309.57 L257.06,308.72 L257.29,307.89 L257.52,307.39 L257.76,307.28 L258.00,307.43 L258.25,307.84 L258.50,308.40 L258.75,309.05 L259.00,309.34 L259.25,309.65 L259.50,310.11 L259.75,310.45 L260.00,310.99 L260.25,311.80 L260.50,312.90 L260.75,314.22 L261.00,315.71 L261.25,317.29 L261.50,318.81 L261.75,320.32 L262.00,321.69 L262.25,322.96 L262.50,324.30 L262.75,325.62 L263.00,326.81 L263.25,327.57 L263.50,328.04 L263.75,328.23 L264.00,328.32 L264.25,327.92 L264.50,326.90 L264.75,325.21 L265.00,323.24 L265.25,321.01 L265.50,318.60 L265.75,316.11 L266.00,313.54 L266.25,310.74 L266.50,307.55 L266.75,304.32 L267.00,301.02 L267.25,297.89 L267.50,295.37 L267.75,293.23 L268.00,291.70 L268.24,290.85 L268.48,290.44 L268.71,290.14 L268.94,289.78 L269.18,289.56 L269.43,289.32 L269.70,288.95 L270.00,288.36 L270.21,287.64 L270.44,286.87 L270.68,286.06 L270.93,285.61 L271.18,285.19 L271.44,284.78 L271.70,284.43 L271.96,284.10 L272.23,283.83 L272.49,283.63 L272.75,283.47 L273.00,283.38 L273.25,283.36 L273.51,283.36 L273.77,282.88 L274.04,282.43 L274.30,282.09 L274.56,281.90 L274.82,281.72 L275.07,281.67 L275.32,281.68 L275.56,281.67 L275.79,281.81 L276.00,281.94 L276.30,282.05 L276.57,281.85 L276.82,281.61 L277.06,281.36 L277.29,281.12 L277.52,281.00 L277.76,281.00 L278.00,281.11 L278.25,281.45 L278.50,282.00 L278.75,282.71 L279.00,283.54 L279.25,284.53 L279.50,285.61 L279.75,286.66 L280.00,287.65 L280.25,288.64 L280.50,289.71 L280.75,290.99 L281.00,292.25 L281.25,293.43 L281.50,294.37 L281.75,295.15 L282.00,295.59 L282.25,295.59 L282.50,295.40 L282.75,295.19 L283.00,294.96 L283.25,294.65 L283.50,294.05 L283.75,293.38 L284.00,292.77 L284.25,292.86 L284.50,292.99 L284.75,293.12 L285.00,293.20 L285.25,293.23 L285.50,293.15 L285.75,292.93 L286.00,292.56 L286.24,292.01 L286.48,291.24 L286.71,290.33 L286.94,289.01 L287.18,287.45 L287.43,285.96 L287.70,284.47 L288.00,283.13 L288.22,282.38 L288.45,282.03 L288.70,281.75 L288.96,281.70 L289.23,282.23 L289.50,282.79 L289.77,283.23 L290.04,283.59 L290.30,283.91 L290.55,283.83 L290.78,283.68 L291.00,283.44 L291.30,282.85 L291.58,282.20 L291.84,281.49 L292.09,280.72 L292.32,279.91 L292.55,279.11 L292.78,278.30 L293.00,277.45 L293.29,276.64 L293.57,275.93 L293.84,275.06 L294.10,273.74 L294.35,272.30 L294.60,270.65 L294.87,268.19 L295.12,265.44 L295.36,262.60 L295.65,259.91 L296.00,257.68 L296.22,256.93 L296.46,256.26 L296.73,255.50 L297.01,254.62 L297.30,253.79 L297.59,253.61 L297.87,253.46 L298.14,253.19 L298.38,252.81 L298.60,252.44 L298.96,251.84 L299.24,251.40 L299.49,251.10 L299.73,250.94 L300.00,250.88 L300.24,250.89 L300.49,251.05 L300.74,251.30 L301.00,251.52 L301.25,251.34 L301.50,250.45 L301.75,248.61 L302.01,246.04 L302.26,243.14 L302.51,240.45 L302.76,237.88 L303.00,235.73 L303.28,233.55 L303.54,231.55 L303.80,229.58 L304.06,227.81 L304.30,226.32 L304.59,225.31 L304.86,224.68 L305.13,224.01 L305.40,223.27 L305.68,222.95 L305.95,223.28 L306.23,223.97 L306.50,224.82 L306.77,225.75 L307.04,226.92 L307.32,228.62 L307.60,230.77 L307.89,233.51 L308.18,236.98 L308.48,240.78 L308.80,244.99 L309.06,248.57 L309.33,252.20 L309.60,255.78 L309.89,259.44 L310.20,262.95 L310.44,265.46 L310.71,267.88 L310.99,270.08 L311.26,272.29 L311.53,274.50 L311.78,276.69 L312.00,278.85 L312.31,283.34 L312.55,287.67 L312.77,291.81 L313.00,295.76 L313.23,299.68 L313.44,303.53 L313.68,306.99 L314.00,309.71 L314.20,310.62 L314.44,311.22 L314.69,311.65 L314.96,311.87 L315.24,311.88 L315.50,311.66 L315.76,311.18 L316.00,310.43 L316.29,309.02 L316.57,307.19 L316.84,304.95 L317.10,302.64 L317.35,300.25 L317.60,297.85 L317.89,294.95 L318.17,291.75 L318.44,288.23 L318.72,284.55 L319.00,280.94 L319.24,277.70 L319.48,274.43 L319.72,271.15 L319.97,267.79 L320.23,264.47 L320.50,261.30 L320.75,258.56 L321.02,255.59 L321.30,253.03 L321.59,250.81 L321.87,248.94 L322.14,247.54 L322.40,246.90 L322.69,247.12 L322.96,248.23 L323.23,250.02 L323.49,252.07 L323.74,254.30 L324.00,256.36 L324.26,258.22 L324.51,260.25 L324.76,262.69 L325.00,265.44 L325.25,268.39 L325.50,271.47 L325.74,274.92 L325.98,278.77 L326.22,283.14 L326.46,287.53 L326.72,291.70 L327.00,295.27 L327.22,297.70 L327.45,300.04 L327.69,302.28 L327.94,304.39 L328.19,306.25 L328.45,307.75 L328.72,309.06 L329.00,310.22 L329.23,311.07 L329.48,311.88 L329.73,312.66 L329.99,313.34 L330.25,313.90 L330.51,314.35 L330.77,314.61 L331.02,314.67 L331.27,314.50 L331.50,314.03 L331.77,313.01 L332.04,311.50 L332.29,309.55 L332.53,307.06 L332.77,304.36 L333.01,301.57 L333.25,298.67 L333.50,295.90 L333.75,293.12 L334.00,290.14 L334.26,287.06 L334.51,283.99 L334.76,281.03 L335.01,278.19 L335.26,276.01 L335.50,274.34 L335.77,272.73 L336.03,271.37 L336.29,270.21 L336.55,269.14 L336.80,267.77 L337.05,266.55 L337.30,265.29 L337.59,263.59 L337.86,262.01 L338.14,260.65 L338.41,259.62 L338.70,259.27 L339.00,259.96 L339.24,260.87 L339.48,262.14 L339.73,263.70 L339.98,265.51 L340.24,267.47 L340.49,269.64 L340.75,272.00 L341.00,274.48 L341.25,277.32 L341.50,280.48 L341.75,283.70 L342.00,287.07 L342.25,290.43 L342.50,293.62 L342.75,296.49 L343.00,298.99 L343.25,301.07 L343.50,302.87 L343.75,304.74 L344.00,306.42 L344.25,307.99 L344.50,309.67 L344.75,311.28 L345.00,312.73 L345.25,313.98 L345.51,315.11 L345.77,315.87 L346.03,316.38 L346.29,316.79 L346.54,316.76 L346.77,316.63 L347.00,316.41 L347.28,316.47 L347.54,316.44 L347.78,316.32 L348.02,316.14 L348.26,315.60 L348.50,314.65 L348.74,313.16 L348.97,311.14 L349.19,308.70 L349.43,306.02 L349.70,303.32 L350.00,300.60 L350.23,298.74 L350.47,296.76 L350.73,294.53 L350.99,292.25 L351.27,290.05 L351.55,288.10 L351.84,286.26 L352.12,284.71 L352.40,283.41 L352.65,282.45 L352.91,281.88 L353.17,281.39 L353.43,280.87 L353.69,280.30 L353.95,279.86 L354.21,279.34 L354.48,278.90 L354.74,278.60 L355.00,278.30 L355.26,278.19 L355.52,278.29 L355.79,278.60 L356.05,279.06 L356.31,279.83 L356.57,280.76 L356.83,281.80 L357.09,283.04 L357.35,284.34 L357.60,285.70 L357.87,287.38 L358.14,289.22 L358.39,291.21 L358.65,293.31 L358.90,295.47 L359.16,297.16 L359.43,298.84 L359.71,300.53 L360.00,302.19 L360.23,303.43 L360.48,304.68 L360.73,305.94 L360.99,307.22 L361.26,308.74 L361.52,310.26 L361.79,311.73 L362.05,313.14 L362.31,314.48 L362.55,315.82 L362.78,317.11 L363.00,318.27 L363.30,319.91 L363.57,321.46 L363.82,322.82 L364.06,323.60 L364.29,324.17 L364.52,324.48 L364.76,324.53 L365.00,324.21 L365.25,323.49 L365.49,322.36 L365.72,320.91 L365.96,319.23 L366.21,317.42 L366.46,315.44 L366.72,313.38 L367.00,311.29 L367.24,309.43 L367.49,307.47 L367.76,305.37 L368.04,303.16 L368.31,300.95 L368.59,298.77 L368.86,296.58 L369.12,294.49 L369.37,292.68 L369.60,290.90 L369.89,288.80 L370.15,287.09 L370.39,285.71 L370.61,284.69 L370.85,284.03 L371.11,283.86 L371.40,283.99 L371.63,284.51 L371.86,285.46 L372.11,286.66 L372.36,288.05 L372.62,289.58 L372.89,291.17 L373.17,292.84 L373.44,294.46 L373.72,295.79 L374.00,296.70 L374.24,297.35 L374.48,297.74 L374.73,298.01 L374.99,298.24 L375.24,298.84 L375.50,299.44 L375.76,300.06 L376.01,300.76 L376.27,301.47 L376.52,302.25 L376.76,303.10 L377.00,303.99 L377.28,305.23 L377.56,306.62 L377.85,308.00 L378.13,309.11 L378.40,310.21 L378.67,311.11 L378.92,311.85 L379.16,312.53 L379.39,312.99 L379.60,313.32 L379.95,313.98 L380.22,314.83 L380.45,315.38 L380.70,315.64 L381.00,315.62 L381.21,315.23 L381.43,314.66 L381.66,313.92 L381.90,313.00 L382.15,311.85 L382.42,310.55 L382.70,309.20 L383.00,307.52 L383.22,306.33 L383.45,304.90 L383.70,302.97 L383.96,300.94 L384.23,298.89 L384.50,296.85 L384.77,294.84 L385.04,293.28 L385.30,291.85 L385.55,290.52 L385.78,289.31 L386.00,288.27 L386.30,287.12 L386.57,286.43 L386.82,285.93 L387.06,285.58 L387.29,285.34 L387.52,285.22 L387.76,285.00 L388.00,284.74 L388.24,284.49 L388.48,284.16 L388.71,283.87 L388.94,283.68 L389.18,283.67 L389.43,283.84 L389.70,284.21 L390.00,284.81 L390.21,285.38 L390.44,286.16 L390.68,287.21 L390.93,288.37 L391.18,289.63 L391.44,290.97 L391.70,292.33 L391.96,293.70 L392.23,295.04 L392.49,296.30 L392.75,297.31 L393.00,298.18 L393.25,298.97 L393.51,299.82 L393.76,300.64 L394.02,301.28 L394.28,301.71 L394.53,302.10 L394.79,302.58 L395.04,303.05 L395.29,303.43 L395.53,303.89 L395.77,304.25 L396.00,304.49 L396.27,304.99 L396.53,305.34 L396.79,305.45 L397.04,305.23 L397.28,304.89 L397.52,304.20 L397.77,303.19 L398.01,302.06 L398.25,300.87 L398.50,299.60 L398.75,298.13 L399.01,296.67 L399.27,295.08 L399.52,293.37 L399.78,291.62 L400.04,289.79 L400.29,288.18 L400.53,286.79 L400.77,285.57 L401.00,284.50 L401.27,283.33 L401.53,282.39 L401.77,281.59 L402.01,280.90 L402.24,280.31 L402.48,279.52 L402.73,278.63 L403.00,277.68 L403.25,277.03 L403.50,276.31 L403.76,275.56 L404.03,274.80 L404.30,274.12 L404.57,273.84 L404.85,273.91 L405.12,274.18 L405.40,274.34 L405.65,274.73 L405.90,275.38 L406.15,276.24 L406.41,277.25 L406.66,278.13 L406.92,278.96 L407.18,279.83 L407.45,281.14 L407.72,282.48 L408.00,283.54 L408.24,284.09 L408.48,284.70 L408.73,285.99 L408.99,287.89 L409.24,289.83 L409.50,291.61 L409.76,293.33 L410.01,294.98 L410.27,295.99 L410.52,296.94 L410.76,297.72 L411.00,298.18 L411.28,298.67 L411.55,299.01 L411.82,299.21 L412.08,299.35 L412.34,299.71 L412.59,300.00 L412.85,300.27 L413.10,300.83 L413.35,301.22 L413.60,301.74 L413.88,302.57 L414.15,303.15 L414.43,302.73 L414.70,301.99 L414.97,301.04 L415.24,299.80 L415.50,298.52 L415.75,297.17 L416.00,295.82 L416.26,294.29 L416.50,293.00 L416.74,291.69 L416.96,290.35 L417.19,288.98 L417.44,287.66 L417.70,286.42 L418.00,285.60 L418.22,285.14 L418.45,284.72 L418.70,284.27 L418.96,283.85 L419.23,283.50 L419.50,283.20 L419.77,282.91 L420.04,282.30 L420.30,281.65 L420.55,280.97 L420.78,280.07 L421.00,279.21 L421.30,278.19 L421.56,277.68 L421.81,277.11 L422.04,276.40 L422.27,275.72 L422.50,275.22 L422.74,275.03 L423.00,275.22 L423.25,275.73 L423.50,276.34 L423.77,277.13 L424.03,278.09 L424.30,279.26 L424.57,280.48 L424.82,281.65 L425.07,282.72 L425.30,283.68 L425.61,285.32 L425.87,287.09 L426.12,288.84 L426.37,290.56 L426.66,292.26 L427.00,293.68 L427.21,294.34 L427.44,295.03 L427.69,295.74 L427.94,296.44 L428.20,297.13 L428.47,297.69 L428.74,298.20 L429.01,298.70 L429.28,299.18 L429.55,299.56 L429.80,300.09 L430.07,300.64 L430.35,301.12 L430.62,301.46 L430.89,301.71 L431.16,301.61 L431.42,301.22 L431.69,300.70 L431.96,300.29 L432.23,299.74 L432.50,298.78 L432.77,297.13 L433.05,295.17 L433.34,293.74 L433.62,292.30 L433.91,290.85 L434.18,289.50 L434.46,288.21 L434.72,286.75 L434.97,285.45 L435.20,284.45 L435.50,283.30 L435.75,282.52 L435.99,282.06 L436.21,281.85 L436.45,281.76 L436.70,281.66 L437.00,281.41 L437.24,281.23 L437.50,280.97 L437.77,280.70 L438.06,280.60 L438.35,281.13 L438.64,281.66 L438.93,282.01 L439.20,282.30 L439.46,282.57 L439.70,282.87 L440.00,283.13 L440.28,283.16 L440.53,283.07 L440.78,282.97 L441.01,282.59 L441.25,282.30 L441.50,282.19 L441.76,281.67 L442.02,281.24 L442.28,281.21 L442.54,282.00 L442.79,282.92 L443.05,284.20 L443.30,285.78 L443.59,287.95 L443.87,289.97 L444.14,292.15 L444.42,294.14 L444.71,295.69 L445.00,296.81 L445.26,297.66 L445.53,298.30 L445.81,298.66 L446.08,298.71 L446.36,298.65 L446.63,298.80 L446.90,298.94 L447.16,298.99 L447.42,298.96 L447.68,298.81 L447.93,298.53 L448.19,298.19 L448.44,297.93 L448.70,298.24 L448.96,298.87 L449.21,299.61 L449.47,299.34 L449.73,299.07 L449.99,298.73 L450.24,298.25 L450.50,297.49 L450.76,296.56 L451.02,295.50 L451.28,294.27 L451.54,293.67 L451.79,292.99 L452.05,292.23 L452.30,291.60 L452.59,290.42 L452.87,288.34 L453.14,285.81 L453.42,283.32 L453.71,280.61 L454.00,278.60 L454.26,277.27 L454.53,276.22 L454.81,275.50 L455.08,275.53 L455.36,275.70 L455.63,275.89 L455.90,276.00 L456.16,276.13 L456.42,276.67 L456.68,277.34 L456.93,278.12 L457.19,279.34 L457.44,280.54 L457.70,281.46 L457.95,281.99 L458.19,282.54 L458.42,283.07 L458.67,283.55 L458.92,284.00 L459.20,284.08 L459.50,283.92 L459.74,283.80 L460.00,283.89 L460.27,283.98 L460.56,284.32 L460.85,284.84 L461.14,285.31 L461.43,285.78 L461.70,286.12 L461.96,286.32 L462.20,286.34 L462.50,285.89 L462.78,285.10 L463.03,284.00 L463.28,282.57 L463.51,280.78 L463.75,279.26 L464.00,278.12 L464.26,277.36 L464.53,277.00 L464.79,276.86 L465.06,276.84 L465.31,276.83 L465.56,276.79 L465.80,276.50 L466.09,275.80 L466.35,275.12 L466.60,274.39 L466.88,274.43 L467.20,275.59 L467.44,276.90 L467.70,278.26 L467.98,279.91 L468.27,281.61 L468.57,283.25 L468.86,284.62 L469.14,285.12 L469.40,285.29 L469.67,285.14 L469.91,284.79 L470.15,284.25 L470.38,283.53 L470.62,282.62 L470.89,281.54 L471.20,280.86 L471.42,280.33 L471.66,279.77 L471.92,279.40 L472.19,278.98 L472.47,278.34 L472.75,277.58 L473.02,276.80 L473.29,275.87 L473.54,275.00 L473.78,274.20 L474.00,273.50 L474.34,272.46 L474.61,271.63 L474.86,270.94 L475.10,270.36 L475.37,269.91 L475.70,269.47 L475.93,269.40 L476.18,269.55 L476.44,269.75 L476.71,269.68 L476.99,269.54 L477.28,269.37 L477.57,269.13 L477.85,268.88 L478.13,268.28 L478.40,267.61 L478.67,267.03 L478.95,266.69 L479.23,266.36 L479.50,266.05 L479.78,265.76 L480.05,265.55 L480.31,265.67 L480.56,265.78 L480.79,265.90 L481.00,266.02 L481.36,266.14 L481.65,266.06 L481.90,266.00 L482.14,266.02 L482.40,265.82 L482.68,265.79 L482.96,266.16 L483.24,267.02 L483.52,268.27 L483.80,269.58 L484.08,271.84 L484.36,275.09 L484.65,278.72 L484.93,282.13 L485.20,285.18 L485.46,287.33 L485.70,289.05 L485.95,290.46 L486.21,291.54 L486.50,291.84 L486.74,291.59 L487.00,291.01 L487.28,290.02 L487.57,288.91 L487.84,287.77 L488.09,286.71 L488.30,285.88 L488.70,284.61 L489.00,283.74 L489.20,284.45" stroke="#000" stroke-width="1.1"/>
<path d="M46.80,301.50 C55.67,301.67 84.47,302.18 100.00,302.50 C115.53,302.82 128.33,303.18 140.00,303.40 C151.67,303.62 160.00,303.78 170.00,303.80 C180.00,303.82 192.33,303.63 200.00,303.50 C207.67,303.37 210.17,303.52 216.00,303.00 C221.83,302.48 231.00,301.02 235.00,300.40 C239.00,299.78 235.83,300.00 240.00,299.30 C244.17,298.60 251.67,297.38 260.00,296.20 C268.33,295.02 280.00,293.27 290.00,292.20 C300.00,291.13 312.50,290.30 320.00,289.80 C327.50,289.30 325.00,289.33 335.00,289.20 C345.00,289.07 367.50,288.98 380.00,289.00 C392.50,289.02 398.33,289.03 410.00,289.30 C421.67,289.57 436.80,290.10 450.00,290.60 C463.20,291.10 482.67,292.02 489.20,292.30" stroke="#a0a0a0" stroke-width="1.2"/>
<path d="M46.80,323.00 C47.08,322.67 47.83,321.63 48.50,321.00 C49.17,320.37 49.92,320.20 50.80,319.20 C51.68,318.20 52.67,316.07 53.80,315.00 C54.93,313.93 56.47,313.58 57.60,312.80 C58.73,312.02 59.33,311.00 60.60,310.30 C61.87,309.60 63.80,308.82 65.20,308.60 C66.60,308.38 67.73,308.50 69.00,309.00 C70.27,309.50 71.60,311.73 72.80,311.60 C74.00,311.47 75.13,309.72 76.20,308.20 C77.27,306.68 78.23,304.70 79.20,302.50 C80.17,300.30 81.10,297.08 82.00,295.00 C82.90,292.92 83.85,290.33 84.60,290.00 C85.35,289.67 85.93,291.33 86.50,293.00 C87.07,294.67 87.42,297.67 88.00,300.00 C88.58,302.33 89.33,304.67 90.00,307.00 C90.67,309.33 91.25,311.83 92.00,314.00 C92.75,316.17 93.67,318.50 94.50,320.00 C95.33,321.50 96.08,322.83 97.00,323.00 C97.92,323.17 99.00,321.50 100.00,321.00 C101.00,320.50 101.83,320.33 103.00,320.00 C104.17,319.67 106.00,318.67 107.00,319.00 C108.00,319.33 108.33,320.57 109.00,322.00 C109.67,323.43 110.33,327.10 111.00,327.60 C111.67,328.10 112.33,326.27 113.00,325.00 C113.67,323.73 114.33,321.83 115.00,320.00 C115.67,318.17 116.33,315.67 117.00,314.00 C117.67,312.33 118.17,310.83 119.00,310.00 C119.83,309.17 121.00,309.00 122.00,309.00 C123.00,309.00 124.08,309.33 125.00,310.00 C125.92,310.67 126.67,311.83 127.50,313.00 C128.33,314.17 129.08,317.50 130.00,317.00 C130.92,316.50 132.00,312.00 133.00,310.00 C134.00,308.00 135.17,305.50 136.00,305.00 C136.83,304.50 137.33,306.00 138.00,307.00 C138.67,308.00 139.17,309.75 140.00,311.00 C140.83,312.25 142.00,314.33 143.00,314.50 C144.00,314.67 145.17,313.08 146.00,312.00 C146.83,310.92 147.17,311.00 148.00,308.00 C148.83,305.00 150.17,297.00 151.00,294.00 C151.83,291.00 151.83,290.67 153.00,290.00 C154.17,289.33 156.50,290.33 158.00,290.00 C159.50,289.67 160.67,289.50 162.00,288.00 C163.33,286.50 164.83,282.50 166.00,281.00 C167.17,279.50 168.17,278.17 169.00,279.00 C169.83,279.83 170.33,282.50 171.00,286.00 C171.67,289.50 172.17,295.50 173.00,300.00 C173.83,304.50 175.00,311.33 176.00,313.00 C177.00,314.67 178.00,312.50 179.00,310.00 C180.00,307.50 180.90,301.83 182.00,298.00 C183.10,294.17 184.60,287.50 185.60,287.00 C186.60,286.50 187.10,290.83 188.00,295.00 C188.90,299.17 190.00,308.00 191.00,312.00 C192.00,316.00 193.00,319.33 194.00,319.00 C195.00,318.67 196.00,314.00 197.00,310.00 C198.00,306.00 199.17,297.50 200.00,295.00 C200.83,292.50 201.17,293.17 202.00,295.00 C202.83,296.83 204.00,301.83 205.00,306.00 C206.00,310.17 207.00,316.83 208.00,320.00 C209.00,323.17 210.00,325.67 211.00,325.00 C212.00,324.33 213.00,318.83 214.00,316.00 C215.00,313.17 216.00,309.00 217.00,308.00 C218.00,307.00 219.00,308.00 220.00,310.00 C221.00,312.00 222.08,316.17 223.00,320.00 C223.92,323.83 224.77,329.40 225.50,333.00 C226.23,336.60 226.82,340.77 227.40,341.60 C227.98,342.43 228.40,340.27 229.00,338.00 C229.60,335.73 230.17,330.67 231.00,328.00 C231.83,325.33 233.08,323.50 234.00,322.00 C234.92,320.50 235.67,320.50 236.50,319.00 C237.33,317.50 238.33,313.50 239.00,313.00 C239.67,312.50 240.00,313.83 240.50,316.00 C241.00,318.17 241.47,322.00 242.00,326.00 C242.53,330.00 243.20,336.33 243.70,340.00 C244.20,343.67 244.45,348.00 245.00,348.00 C245.55,348.00 246.17,344.00 247.00,340.00 C247.83,336.00 249.00,327.00 250.00,324.00 C251.00,321.00 252.00,321.83 253.00,322.00 C254.00,322.17 255.07,325.17 256.00,325.00 C256.93,324.83 257.77,320.83 258.60,321.00 C259.43,321.17 260.27,323.50 261.00,326.00 C261.73,328.50 262.33,335.00 263.00,336.00 C263.67,337.00 264.33,335.00 265.00,332.00 C265.67,329.00 266.33,322.17 267.00,318.00 C267.67,313.83 268.17,309.50 269.00,307.00 C269.83,304.50 270.83,304.50 272.00,303.00 C273.17,301.50 275.00,298.83 276.00,298.00 C277.00,297.17 277.33,297.00 278.00,298.00 C278.67,299.00 279.33,301.83 280.00,304.00 C280.67,306.17 281.33,309.83 282.00,311.00 C282.67,312.17 283.33,311.83 284.00,311.00 C284.67,310.17 285.17,307.50 286.00,306.00 C286.83,304.50 288.00,303.33 289.00,302.00 C290.00,300.67 291.17,300.67 292.00,298.00 C292.83,295.33 293.33,289.83 294.00,286.00 C294.67,282.17 295.33,277.50 296.00,275.00 C296.67,272.50 297.33,272.00 298.00,271.00 C298.67,270.00 299.33,270.17 300.00,269.00 C300.67,267.83 301.33,267.17 302.00,264.00 C302.67,260.83 303.40,253.33 304.00,250.00 C304.60,246.67 305.10,244.33 305.60,244.00 C306.10,243.67 306.52,246.00 307.00,248.00 C307.48,250.00 308.00,252.33 308.50,256.00 C309.00,259.67 309.42,262.67 310.00,270.00 C310.58,277.33 311.33,291.33 312.00,300.00 C312.67,308.67 313.33,317.00 314.00,322.00 C314.67,327.00 315.33,330.00 316.00,330.00 C316.67,330.00 317.42,327.83 318.00,322.00 C318.58,316.17 319.05,302.67 319.50,295.00 C319.95,287.33 320.28,280.33 320.70,276.00 C321.12,271.67 321.57,269.17 322.00,269.00 C322.43,268.83 322.87,271.17 323.30,275.00 C323.73,278.83 323.98,284.50 324.60,292.00 C325.22,299.50 326.10,313.00 327.00,320.00 C327.90,327.00 329.17,332.67 330.00,334.00 C330.83,335.33 331.33,332.33 332.00,328.00 C332.67,323.67 333.33,314.00 334.00,308.00 C334.67,302.00 335.23,296.00 336.00,292.00 C336.77,288.00 337.77,283.00 338.60,284.00 C339.43,285.00 340.27,292.00 341.00,298.00 C341.73,304.00 342.33,314.33 343.00,320.00 C343.67,325.67 344.33,329.00 345.00,332.00 C345.67,335.00 346.37,338.33 347.00,338.00 C347.63,337.67 348.22,333.67 348.80,330.00 C349.38,326.33 349.80,320.50 350.50,316.00 C351.20,311.50 352.15,305.67 353.00,303.00 C353.85,300.33 354.77,299.17 355.60,300.00 C356.43,300.83 357.10,304.00 358.00,308.00 C358.90,312.00 360.17,319.17 361.00,324.00 C361.83,328.83 362.33,333.67 363.00,337.00 C363.67,340.33 364.33,344.83 365.00,344.00 C365.67,343.17 366.23,337.17 367.00,332.00 C367.77,326.83 368.87,316.67 369.60,313.00 C370.33,309.33 370.67,309.17 371.40,310.00 C372.13,310.83 373.07,314.83 374.00,318.00 C374.93,321.17 376.00,326.17 377.00,329.00 C378.00,331.83 379.08,335.67 380.00,335.00 C380.92,334.33 381.67,328.67 382.50,325.00 C383.33,321.33 384.25,316.33 385.00,313.00 C385.75,309.67 386.33,306.67 387.00,305.00 C387.67,303.33 388.25,302.50 389.00,303.00 C389.75,303.50 390.67,305.17 391.50,308.00 C392.33,310.83 393.25,317.00 394.00,320.00 C394.75,323.00 395.33,326.67 396.00,326.00 C396.67,325.33 397.17,320.00 398.00,316.00 C398.83,312.00 400.17,305.17 401.00,302.00 C401.83,298.83 402.27,298.17 403.00,297.00 C403.73,295.83 404.57,294.67 405.40,295.00 C406.23,295.33 407.23,297.00 408.00,299.00 C408.77,301.00 409.33,304.00 410.00,307.00 C410.67,310.00 411.33,314.17 412.00,317.00 C412.67,319.83 413.33,323.83 414.00,324.00 C414.67,324.17 415.33,320.73 416.00,318.00 C416.67,315.27 417.27,310.68 418.00,307.60 C418.73,304.52 419.63,301.27 420.40,299.50 C421.17,297.73 421.78,296.25 422.60,297.00 C423.42,297.75 424.40,301.33 425.30,304.00 C426.20,306.67 427.10,310.33 428.00,313.00 C428.90,315.67 429.95,318.67 430.70,320.00 C431.45,321.33 431.75,322.77 432.50,321.00 C433.25,319.23 434.30,312.68 435.20,309.40 C436.10,306.12 437.15,302.87 437.90,301.30 C438.65,299.73 438.95,299.55 439.70,300.00 C440.45,300.45 441.52,301.83 442.40,304.00 C443.28,306.17 444.10,310.67 445.00,313.00 C445.90,315.33 447.03,316.95 447.80,318.00 C448.57,319.05 448.85,321.03 449.60,319.30 C450.35,317.57 451.40,311.05 452.30,307.60 C453.20,304.15 454.18,300.33 455.00,298.60 C455.82,296.87 456.30,296.90 457.20,297.20 C458.10,297.50 459.42,300.02 460.40,300.40 C461.38,300.78 462.20,300.03 463.10,299.50 C464.00,298.97 464.90,297.20 465.80,297.20 C466.70,297.20 467.47,300.17 468.50,299.50 C469.53,298.83 470.95,295.00 472.00,293.20 C473.05,291.40 473.88,289.90 474.80,288.70 C475.72,287.50 476.47,286.75 477.50,286.00 C478.53,285.25 480.10,283.90 481.00,284.20 C481.90,284.50 482.28,285.70 482.90,287.80 C483.52,289.90 484.10,294.10 484.70,296.80 C485.30,299.50 485.90,302.35 486.50,304.00 C487.10,305.65 487.85,306.37 488.30,306.70 C488.75,307.03 489.05,306.12 489.20,306.00" stroke="#bf00bf" stroke-width="1.1"/>
<path d="M46.80,313.00 L48.00,309.00 L49.30,304.00 L50.60,309.00 L51.50,311.00 L52.50,308.55 L53.20,308.36 L53.90,310.09 L54.60,311.83 L55.30,311.91 L56.00,311.00 L56.70,308.71 L57.40,308.33 L58.10,310.04 L58.80,310.32 L59.50,310.94 L60.20,310.78 L60.90,310.02 L61.60,309.74 L62.30,309.47 L63.00,309.64 L63.70,310.59 L64.40,311.82 L65.10,311.17 L65.80,309.13 L66.50,308.96 L67.20,309.09 L67.90,310.64 L68.60,311.04 L69.30,310.86 L70.00,309.73 L70.70,309.61 L71.40,310.45 L72.10,310.83 L72.80,310.62 L73.50,310.11 L74.20,309.55 L74.90,309.69 L75.60,310.50 L76.30,310.44 L77.00,310.61 L77.70,310.09 L78.40,309.62 L79.10,309.30 L79.80,309.24 L80.50,310.53 L81.20,310.86 L81.90,310.73 L82.60,310.26 L83.30,309.72 L84.00,309.65 L84.70,309.83 L85.40,313.16 L86.10,312.03 L86.80,310.11 L87.50,308.08 L88.20,307.84 L88.90,308.07 L89.60,310.76 L90.30,313.68 L91.00,312.73 L91.70,310.35 L92.40,308.04 L93.10,308.26 L93.80,308.97 L94.50,313.03 L95.20,312.51 L95.90,311.32 L96.60,308.45 L97.30,306.84 L98.00,308.41 L98.70,311.10 L99.40,312.45 L100.10,311.23 L100.80,309.74 L101.50,309.06 L102.20,310.34 L102.90,309.64 L103.60,310.95 L104.30,311.53 L105.00,310.85 L105.70,310.28 L106.40,308.99 L107.10,308.17 L107.80,308.68 L108.50,310.15 L109.20,312.40 L109.90,311.97 L110.60,311.13 L111.30,307.28 L112.00,309.29 L112.70,309.54 L113.40,311.67 L114.10,311.19 L114.80,311.16 L115.50,309.75 L116.20,308.15 L116.90,308.10 L117.60,310.15 L118.30,312.27 L119.00,313.77 L119.70,311.55 L120.40,308.24 L121.10,306.58 L121.80,307.61 L122.50,311.35 L123.20,313.29 L123.90,312.72 L124.60,310.41 L125.30,307.57 L126.00,307.60 L126.70,310.27 L127.40,312.15 L128.10,312.28 L128.80,310.39 L129.50,309.31 L130.20,308.10 L130.90,308.13 L131.60,310.24 L132.30,310.98 L133.00,311.24 L133.70,309.94 L134.40,308.91 L135.10,309.02 L135.80,309.22 L136.50,309.42 L137.20,311.72 L137.90,312.35 L138.60,309.63 L139.30,308.83 L140.00,307.13 L140.70,308.67 L141.40,310.94 L142.10,311.49 L142.80,312.20 L143.50,309.41 L144.20,307.65 L144.90,308.78 L145.60,310.31 L146.30,311.77 L147.00,312.10 L147.70,309.55 L148.40,309.04 L149.10,308.53 L149.80,309.58 L150.50,310.97 L151.20,310.91 L151.90,310.29 L152.60,309.81 L153.30,309.28 L154.00,309.33 L154.70,311.74 L155.40,312.59 L156.10,311.11 L156.80,308.71 L157.50,307.93 L158.20,307.89 L158.90,310.84 L160.00,306.00 L161.40,311.50 L162.80,307.30 L164.00,311.00 L165.60,306.60 L167.00,310.00 L168.40,305.20 L169.50,318.40 L170.90,306.00 L171.80,299.00 L172.80,318.40 L173.90,303.00 L175.00,321.20 L176.40,303.00 L177.80,296.80 L179.20,312.90 L180.60,328.20 L182.00,311.50 L183.40,300.30 L184.80,299.00 L186.20,331.00 L187.60,312.90 L189.20,303.00 L190.90,310.00 L192.50,306.00 L194.10,312.90 L196.00,305.20 L197.60,315.00 L199.00,307.00 L200.00,313.02 L200.70,312.96 L201.40,310.72 L202.10,307.95 L202.80,308.18 L203.50,307.87 L204.20,310.86 L204.90,312.30 L205.60,310.50 L206.30,309.85 L207.00,307.79 L207.70,306.41 L208.40,308.83 L209.10,312.21 L209.80,312.20 L210.50,310.94 L211.20,310.04 L211.90,308.01 L212.60,307.85 L213.30,310.21 L214.00,312.07 L214.70,314.16 L215.40,310.27 L216.10,306.80 L216.80,305.47 L217.50,310.73 L218.20,315.27 L218.90,314.26 L219.60,310.05 L220.30,306.54 L221.00,305.87 L221.70,309.28 L222.40,311.75 L223.10,311.29 L223.80,311.72 L224.50,309.20 L225.20,307.35 L225.90,307.96 L226.60,309.28 L227.30,312.29 L228.00,312.07 L228.70,310.08 L229.40,309.10 L230.10,309.18 L230.80,310.05 L231.50,310.70 L232.20,309.64 L232.90,310.79 L233.60,308.69 L234.30,309.04 L235.00,309.31 L235.70,310.34 L236.40,309.82 L237.10,311.63 L237.80,310.95 L238.50,309.25 L239.20,308.25 L239.90,308.08 L240.60,309.06 L241.30,313.27 L242.00,312.83 L242.70,310.54 L243.40,307.78 L244.10,307.15 L244.80,309.20 L245.50,311.31 L246.20,314.56 L246.90,311.42 L247.60,308.85 L248.30,305.29 L249.00,309.14 L249.70,311.28 L250.40,311.98 L251.10,313.57 L251.80,308.56 L252.50,306.38 L253.20,307.97 L253.90,310.22 L254.60,313.55 L255.30,315.10 L256.00,311.21 L256.70,305.90 L257.40,305.73 L258.10,309.15 L258.80,313.54 L259.50,313.78 L260.20,312.08 L260.90,310.17 L261.60,308.97 L262.30,309.61 L263.00,310.57 L263.70,309.88 L264.40,312.26 L265.10,311.18 L265.80,309.60 L266.50,307.37 L267.20,306.44 L267.90,308.84 L268.60,312.45 L269.30,311.96 L270.00,310.99 L270.70,308.37 L271.40,308.72 L272.10,309.49 L272.80,310.66 L273.50,312.04 L274.20,309.72 L274.90,308.76 L275.60,309.00 L276.30,310.68 L277.00,311.01 L277.70,310.83 L278.40,309.78 L279.10,308.80 L279.80,309.09 L280.50,309.53 L281.20,311.22 L281.90,311.83 L282.60,309.99 L283.30,309.72 L284.00,307.02 L284.70,308.81 L285.40,310.45 L286.10,311.68 L286.80,313.33 L287.50,310.60 L288.20,306.87 L288.90,305.81 L289.60,309.28 L290.30,311.48 L291.00,311.20 L291.70,310.16 L292.40,309.07 L293.10,308.67 L293.80,311.64 L294.50,311.92 L295.20,310.53 L295.90,309.18 L296.60,310.03 L297.30,308.64 L298.00,310.87 L298.70,311.27 L299.40,311.80 L300.10,312.39 L300.80,309.87 L301.50,308.72 L302.20,307.31 L302.90,309.19 L303.60,310.76 L304.30,310.90 L305.00,313.84 L305.70,311.11 L306.40,310.00 L307.10,307.59 L307.80,306.80 L308.50,308.77 L309.20,311.80 L309.90,312.53 L310.60,312.38 L311.30,309.75 L312.00,307.22 L312.70,308.83 L313.40,310.39 L314.10,312.13 L314.80,311.01 L315.50,309.73 L316.20,308.27 L316.90,308.09 L317.60,309.74 L318.30,311.99 L319.00,312.45 L319.70,310.92 L320.40,308.52 L321.10,307.37 L321.80,309.91 L322.50,311.59 L323.20,312.11 L323.90,311.34 L324.60,308.92 L325.30,308.94 L326.00,308.41 L326.70,310.45 L327.40,311.21 L328.10,312.05 L328.80,310.84 L329.50,310.14 L330.20,309.69 L330.90,309.72 L331.60,310.27 L332.30,311.53 L333.00,311.00 L333.70,309.40 L334.40,307.62 L335.10,306.39 L335.80,310.00 L336.50,313.88 L337.20,313.81 L337.90,310.42 L338.60,306.92 L339.30,307.95 L340.00,309.70 L340.70,310.92 L341.40,311.79 L342.10,309.83 L342.80,307.86 L343.50,306.89 L344.20,308.25 L344.90,311.71 L345.60,313.32 L346.30,312.18 L347.00,308.62 L347.70,307.62 L348.40,308.97 L349.10,310.79 L349.80,311.78 L350.50,311.18 L351.20,309.10 L351.90,308.44 L352.60,308.68 L353.30,311.57 L354.00,312.55 L354.70,311.74 L355.40,309.66 L356.10,308.11 L356.80,308.12 L357.50,309.12 L358.20,310.75 L358.90,312.65 L359.60,311.11 L360.30,310.18 L361.00,308.87 L361.70,309.29 L362.40,309.57 L363.10,310.98 L363.80,312.77 L364.50,311.33 L365.20,310.35 L365.90,308.86 L366.60,308.27 L367.30,308.37 L368.00,310.14 L368.70,312.21 L369.40,312.94 L370.10,310.85 L370.80,308.31 L371.50,307.46 L372.20,308.89 L372.90,310.42 L373.60,312.36 L374.30,311.49 L375.00,308.61 L375.70,308.52 L376.40,309.06 L377.10,310.24 L377.80,312.43 L378.50,312.33 L379.20,310.28 L379.90,306.97 L380.60,305.36 L381.30,307.61 L382.00,311.26 L382.70,313.71 L383.40,314.17 L384.10,311.00 L384.80,308.24 L385.50,308.40 L386.20,308.24 L386.90,310.19 L387.60,311.97 L388.30,311.93 L389.00,310.76 L389.70,309.99 L390.40,309.12 L391.10,309.44 L391.80,310.02 L392.50,310.77 L393.20,310.45 L393.90,310.58 L394.60,308.58 L395.30,308.08 L396.00,308.82 L396.70,311.81 L397.40,312.62 L398.10,310.19 L398.80,308.30 L399.50,308.71 L400.20,309.44 L400.90,311.04 L401.60,311.42 L402.30,311.39 L403.00,309.45 L403.70,309.25 L404.40,308.86 L405.10,310.82 L405.80,310.71 L406.50,310.93 L407.20,309.04 L407.90,309.55 L408.60,306.91 L409.30,310.98 L410.00,313.93 L410.70,313.44 L411.40,311.16 L412.10,307.64 L412.80,305.83 L413.50,306.85 L414.20,311.99 L414.90,312.26 L415.60,310.94 L416.30,308.84 L417.00,308.93 L417.70,308.78 L418.40,309.99 L419.10,310.59 L419.80,311.51 L420.50,310.42 L421.20,307.75 L421.90,309.69 L422.60,310.12 L423.30,310.84 L424.00,310.22 L424.70,310.06 L425.40,309.35 L426.10,310.55 L426.80,311.65 L427.50,310.96 L428.20,310.38 L428.90,309.37 L429.60,309.03 L430.30,310.59 L431.00,311.80 L431.70,310.76 L432.40,310.93 L433.10,307.61 L433.80,308.81 L434.50,310.87 L435.20,311.00 L435.90,310.41 L436.60,310.40 L437.30,309.56 L438.00,307.75 L438.70,309.55 L439.40,310.36 L440.10,311.95 L440.80,312.87 L441.50,311.48 L442.20,306.99 L442.90,307.88 L443.60,311.00 L444.30,311.47 L445.00,310.13 L445.70,310.11 L446.40,308.74 L447.10,309.09 L447.80,310.07 L448.50,310.26 L449.20,313.45 L449.90,310.33 L450.60,307.72 L451.30,305.80 L452.00,308.50 L452.70,313.19 L453.40,314.79 L454.10,313.04 L454.80,309.49 L455.50,308.70 L456.20,307.66 L456.90,308.45 L457.60,311.82 L458.30,311.82 L459.00,311.45 L459.70,308.77 L460.40,307.38 L461.10,308.35 L461.80,309.83 L462.50,311.48 L463.20,314.05 L463.90,312.72 L464.60,310.10 L465.30,307.21 L466.00,304.83 L466.70,305.93 L467.40,310.63 L468.10,312.88 L468.80,314.34 L469.50,311.94 L470.20,309.40 L470.90,306.91 L471.60,307.16 L472.30,309.57 L473.00,310.54 L473.70,310.47 L474.40,310.06 L475.10,309.48 L475.80,309.42 L476.50,311.53 L477.20,311.63 L477.90,311.16 L478.60,308.59 L479.30,307.87 L480.00,307.37 L480.70,308.98 L481.40,310.74 L482.10,312.01 L482.80,309.99 L483.50,310.56 L484.20,308.48 L484.90,307.64 L485.60,309.55 L486.30,312.88 L487.00,312.54 L487.70,311.21 L488.40,309.64 L489.10,308.57 L489.20,311.00" stroke="#0000ff" stroke-width="1.2"/>
</g>
<rect x="88.5" y="28.5" width="77.8" height="24.8" fill="#fff"/>
<rect x="88.5" y="214" width="90.1" height="51" fill="#fff"/>
<line x1="92.8" y1="34.50" x2="111.8" y2="34.50" stroke="#111" stroke-width="1.10"/>
<text x="117.75" y="38.10" font-size="9.45" fill="#111" stroke="#111" stroke-width="0.15" textLength="44.66" lengthAdjust="spacingAndGlyphs">measured</text>
<line x1="92.8" y1="48.30" x2="111.8" y2="48.30" stroke="#008000" stroke-width="1.10"/>
<text x="118.24" y="51.70" font-size="9.45" fill="#111" stroke="#111" stroke-width="0.15" textLength="17.20" lengthAdjust="spacingAndGlyphs">tide</text>
<line x1="92.8" y1="219.40" x2="111.8" y2="219.40" stroke="#111" stroke-width="1.10"/>
<text x="117.74" y="222.60" font-size="9.45" fill="#111" stroke="#111" stroke-width="0.15" textLength="35.35" lengthAdjust="spacingAndGlyphs">residual</text>
<line x1="92.8" y1="233.00" x2="111.8" y2="233.00" stroke="#a8a8a8" stroke-width="1.80"/>
<text x="117.71" y="236.20" font-size="9.45" fill="#111" stroke="#111" stroke-width="0.15" textLength="51.87" lengthAdjust="spacingAndGlyphs">plan + long</text>
<line x1="92.8" y1="246.50" x2="111.8" y2="246.50" stroke="#bf00bf" stroke-width="1.10"/>
<text x="118.12" y="249.80" font-size="9.45" fill="#111" stroke="#111" stroke-width="0.15" textLength="37.42" lengthAdjust="spacingAndGlyphs">synoptic</text>
<line x1="92.8" y1="260.20" x2="111.8" y2="260.20" stroke="#3333ff" stroke-width="1.10"/>
<text x="117.68" y="263.40" font-size="9.45" fill="#111" stroke="#111" stroke-width="0.15" textLength="11.60" lengthAdjust="spacingAndGlyphs">HF</text>
<rect x="46.80" y="23.60" width="442.40" height="176.80" fill="none" stroke="#909090" stroke-width="1.2"/>
<rect x="46.80" y="209.90" width="442.40" height="146.80" fill="none" stroke="#909090" stroke-width="1.2"/>
<line x1="43.3" y1="23.50" x2="46.80" y2="23.50" stroke="#333" stroke-width="1"/>
<line x1="43.3" y1="53.50" x2="46.80" y2="53.50" stroke="#333" stroke-width="1"/>
<line x1="43.3" y1="82.50" x2="46.80" y2="82.50" stroke="#333" stroke-width="1"/>
<line x1="43.3" y1="111.50" x2="46.80" y2="111.50" stroke="#333" stroke-width="1"/>
<line x1="43.3" y1="141.50" x2="46.80" y2="141.50" stroke="#333" stroke-width="1"/>
<line x1="43.3" y1="170.50" x2="46.80" y2="170.50" stroke="#333" stroke-width="1"/>
<line x1="43.3" y1="200.50" x2="46.80" y2="200.50" stroke="#333" stroke-width="1"/>
<line x1="43.3" y1="221.50" x2="46.80" y2="221.50" stroke="#333" stroke-width="1"/>
<line x1="43.3" y1="251.50" x2="46.80" y2="251.50" stroke="#333" stroke-width="1"/>
<line x1="43.3" y1="280.50" x2="46.80" y2="280.50" stroke="#333" stroke-width="1"/>
<line x1="43.3" y1="310.50" x2="46.80" y2="310.50" stroke="#333" stroke-width="1"/>
<line x1="43.3" y1="339.50" x2="46.80" y2="339.50" stroke="#333" stroke-width="1"/>
<line x1="46.50" y1="200.40" x2="46.50" y2="203.90" stroke="#333" stroke-width="1"/>
<line x1="46.50" y1="356.70" x2="46.50" y2="360.20" stroke="#333" stroke-width="1"/>
<line x1="65.50" y1="200.40" x2="65.50" y2="203.90" stroke="#333" stroke-width="1"/>
<line x1="65.50" y1="356.70" x2="65.50" y2="360.20" stroke="#333" stroke-width="1"/>
<line x1="83.50" y1="200.40" x2="83.50" y2="203.90" stroke="#333" stroke-width="1"/>
<line x1="83.50" y1="356.70" x2="83.50" y2="360.20" stroke="#333" stroke-width="1"/>
<line x1="102.50" y1="200.40" x2="102.50" y2="203.90" stroke="#333" stroke-width="1"/>
<line x1="102.50" y1="356.70" x2="102.50" y2="360.20" stroke="#333" stroke-width="1"/>
<line x1="120.50" y1="200.40" x2="120.50" y2="203.90" stroke="#333" stroke-width="1"/>
<line x1="120.50" y1="356.70" x2="120.50" y2="360.20" stroke="#333" stroke-width="1"/>
<line x1="138.50" y1="200.40" x2="138.50" y2="203.90" stroke="#333" stroke-width="1"/>
<line x1="138.50" y1="356.70" x2="138.50" y2="360.20" stroke="#333" stroke-width="1"/>
<line x1="157.50" y1="200.40" x2="157.50" y2="203.90" stroke="#333" stroke-width="1"/>
<line x1="157.50" y1="356.70" x2="157.50" y2="360.20" stroke="#333" stroke-width="1"/>
<line x1="175.50" y1="200.40" x2="175.50" y2="203.90" stroke="#333" stroke-width="1"/>
<line x1="175.50" y1="356.70" x2="175.50" y2="360.20" stroke="#333" stroke-width="1"/>
<line x1="194.50" y1="200.40" x2="194.50" y2="203.90" stroke="#333" stroke-width="1"/>
<line x1="194.50" y1="356.70" x2="194.50" y2="360.20" stroke="#333" stroke-width="1"/>
<line x1="212.50" y1="200.40" x2="212.50" y2="203.90" stroke="#333" stroke-width="1"/>
<line x1="212.50" y1="356.70" x2="212.50" y2="360.20" stroke="#333" stroke-width="1"/>
<line x1="231.50" y1="200.40" x2="231.50" y2="203.90" stroke="#333" stroke-width="1"/>
<line x1="231.50" y1="356.70" x2="231.50" y2="360.20" stroke="#333" stroke-width="1"/>
<line x1="249.50" y1="200.40" x2="249.50" y2="203.90" stroke="#333" stroke-width="1"/>
<line x1="249.50" y1="356.70" x2="249.50" y2="360.20" stroke="#333" stroke-width="1"/>
<line x1="268.50" y1="200.40" x2="268.50" y2="203.90" stroke="#333" stroke-width="1"/>
<line x1="268.50" y1="356.70" x2="268.50" y2="360.20" stroke="#333" stroke-width="1"/>
<line x1="286.50" y1="200.40" x2="286.50" y2="203.90" stroke="#333" stroke-width="1"/>
<line x1="286.50" y1="356.70" x2="286.50" y2="360.20" stroke="#333" stroke-width="1"/>
<line x1="304.50" y1="200.40" x2="304.50" y2="203.90" stroke="#333" stroke-width="1"/>
<line x1="304.50" y1="356.70" x2="304.50" y2="360.20" stroke="#333" stroke-width="1"/>
<line x1="323.50" y1="200.40" x2="323.50" y2="203.90" stroke="#333" stroke-width="1"/>
<line x1="323.50" y1="356.70" x2="323.50" y2="360.20" stroke="#333" stroke-width="1"/>
<line x1="341.50" y1="200.40" x2="341.50" y2="203.90" stroke="#333" stroke-width="1"/>
<line x1="341.50" y1="356.70" x2="341.50" y2="360.20" stroke="#333" stroke-width="1"/>
<line x1="360.50" y1="200.40" x2="360.50" y2="203.90" stroke="#333" stroke-width="1"/>
<line x1="360.50" y1="356.70" x2="360.50" y2="360.20" stroke="#333" stroke-width="1"/>
<line x1="378.50" y1="200.40" x2="378.50" y2="203.90" stroke="#333" stroke-width="1"/>
<line x1="378.50" y1="356.70" x2="378.50" y2="360.20" stroke="#333" stroke-width="1"/>
<line x1="397.50" y1="200.40" x2="397.50" y2="203.90" stroke="#333" stroke-width="1"/>
<line x1="397.50" y1="356.70" x2="397.50" y2="360.20" stroke="#333" stroke-width="1"/>
<line x1="415.50" y1="200.40" x2="415.50" y2="203.90" stroke="#333" stroke-width="1"/>
<line x1="415.50" y1="356.70" x2="415.50" y2="360.20" stroke="#333" stroke-width="1"/>
<line x1="433.50" y1="200.40" x2="433.50" y2="203.90" stroke="#333" stroke-width="1"/>
<line x1="433.50" y1="356.70" x2="433.50" y2="360.20" stroke="#333" stroke-width="1"/>
<line x1="452.50" y1="200.40" x2="452.50" y2="203.90" stroke="#333" stroke-width="1"/>
<line x1="452.50" y1="356.70" x2="452.50" y2="360.20" stroke="#333" stroke-width="1"/>
<line x1="470.50" y1="200.40" x2="470.50" y2="203.90" stroke="#333" stroke-width="1"/>
<line x1="470.50" y1="356.70" x2="470.50" y2="360.20" stroke="#333" stroke-width="1"/>
<line x1="489.50" y1="200.40" x2="489.50" y2="203.90" stroke="#333" stroke-width="1"/>
<line x1="489.50" y1="356.70" x2="489.50" y2="360.20" stroke="#333" stroke-width="1"/>
<text x="20.11" y="27.70" font-size="11.00" fill="#111" stroke="#111" stroke-width="0.15" textLength="19.33" lengthAdjust="spacingAndGlyphs">100</text>
<text x="26.79" y="86.55" font-size="11.00" fill="#111" stroke="#111" stroke-width="0.15" textLength="12.66" lengthAdjust="spacingAndGlyphs">50</text>
<text x="33.34" y="145.40" font-size="11.00" fill="#111" stroke="#111" stroke-width="0.15" textLength="6.09" lengthAdjust="spacingAndGlyphs">0</text>
<text x="22.67" y="204.25" font-size="11.00" fill="#111" stroke="#111" stroke-width="0.15" textLength="16.77" lengthAdjust="spacingAndGlyphs">-50</text>
<text x="26.94" y="225.70" font-size="11.00" fill="#111" stroke="#111" stroke-width="0.15" textLength="12.53" lengthAdjust="spacingAndGlyphs">75</text>
<text x="26.79" y="255.20" font-size="11.00" fill="#111" stroke="#111" stroke-width="0.15" textLength="12.66" lengthAdjust="spacingAndGlyphs">50</text>
<text x="26.84" y="284.70" font-size="11.00" fill="#111" stroke="#111" stroke-width="0.15" textLength="12.65" lengthAdjust="spacingAndGlyphs">25</text>
<text x="33.34" y="314.20" font-size="11.00" fill="#111" stroke="#111" stroke-width="0.15" textLength="6.09" lengthAdjust="spacingAndGlyphs">0</text>
<text x="22.88" y="343.70" font-size="11.00" fill="#111" stroke="#111" stroke-width="0.15" textLength="16.58" lengthAdjust="spacingAndGlyphs">-25</text>
<text x="40.25" y="373.10" font-size="11.00" fill="#111" stroke="#111" stroke-width="0.15" textLength="12.76" lengthAdjust="spacingAndGlyphs">18</text>
<text x="77.19" y="373.10" font-size="11.00" fill="#111" stroke="#111" stroke-width="0.15" textLength="12.84" lengthAdjust="spacingAndGlyphs">20</text>
<text x="114.23" y="373.10" font-size="11.00" fill="#111" stroke="#111" stroke-width="0.15" textLength="12.60" lengthAdjust="spacingAndGlyphs">22</text>
<text x="150.87" y="373.10" font-size="11.00" fill="#111" stroke="#111" stroke-width="0.15" textLength="12.83" lengthAdjust="spacingAndGlyphs">24</text>
<text x="187.76" y="373.10" font-size="11.00" fill="#111" stroke="#111" stroke-width="0.15" textLength="12.96" lengthAdjust="spacingAndGlyphs">26</text>
<text x="224.67" y="373.10" font-size="11.00" fill="#111" stroke="#111" stroke-width="0.15" textLength="12.88" lengthAdjust="spacingAndGlyphs">28</text>
<text x="261.68" y="373.10" font-size="11.00" fill="#111" stroke="#111" stroke-width="0.15" textLength="12.66" lengthAdjust="spacingAndGlyphs">30</text>
<text x="301.82" y="373.10" font-size="11.00" fill="#111" stroke="#111" stroke-width="0.15" textLength="5.82" lengthAdjust="spacingAndGlyphs">1</text>
<text x="338.83" y="373.10" font-size="11.00" fill="#111" stroke="#111" stroke-width="0.15" textLength="5.88" lengthAdjust="spacingAndGlyphs">3</text>
<text x="375.73" y="373.10" font-size="11.00" fill="#111" stroke="#111" stroke-width="0.15" textLength="5.75" lengthAdjust="spacingAndGlyphs">5</text>
<text x="412.49" y="373.10" font-size="11.00" fill="#111" stroke="#111" stroke-width="0.15" textLength="5.94" lengthAdjust="spacingAndGlyphs">7</text>
<text x="449.17" y="373.10" font-size="11.00" fill="#111" stroke="#111" stroke-width="0.15" textLength="6.32" lengthAdjust="spacingAndGlyphs">9</text>
<text x="482.71" y="373.10" font-size="11.00" fill="#111" stroke="#111" stroke-width="0.15" textLength="12.65" lengthAdjust="spacingAndGlyphs">11</text>
<text x="209.13" y="387.60" font-size="11.00" fill="#111" stroke="#111" stroke-width="0.15" textLength="118.35" lengthAdjust="spacingAndGlyphs">January–February 1986</text>
<text transform="translate(12.70,148.98) rotate(-90)" font-size="11.00" fill="#111" stroke="#111" stroke-width="0.15" textLength="74.34" lengthAdjust="spacingAndGlyphs">Sea level (cm)</text>
<text transform="translate(15.60,319.88) rotate(-90)" font-size="11.00" fill="#111" stroke="#111" stroke-width="0.15" textLength="74.34" lengthAdjust="spacingAndGlyphs">Sea level (cm)</text>
<text x="54.58" y="39.50" font-size="11.00" fill="#111" stroke="#111" stroke-width="0.15" textLength="14.13" lengthAdjust="spacingAndGlyphs">(a)</text>
<text x="54.56" y="236.50" font-size="11.00" fill="#111" stroke="#111" stroke-width="0.15" textLength="14.39" lengthAdjust="spacingAndGlyphs">(b)</text>
<text x="275.13" y="40.70" font-size="11.00" fill="#ff1a1a" stroke="#ff1a1a" stroke-width="0.15" textLength="22.27" lengthAdjust="spacingAndGlyphs">max</text>
<rect x="362.30" y="5.00" width="73.80" height="78.20" fill="#fff"/>
<rect x="365.45" y="9.69" width="6.1" height="73.51" fill="#000"/>
<rect x="378.15" y="76.16" width="6.1" height="7.04" fill="#7c7c7c"/>
<rect x="390.35" y="78.66" width="6.1" height="4.54" fill="#808080"/>
<rect x="402.65" y="40.97" width="6.1" height="42.23" fill="#bf00bf"/>
<rect x="414.95" y="66.93" width="6.1" height="16.27" fill="#008000"/>
<rect x="427.35" y="80.07" width="6.1" height="3.13" fill="#0000ff"/>
<clipPath id="hl"><rect x="378.15" y="76.16" width="6.1" height="7.04"/></clipPath>
<line x1="376.5" y1="85" x2="385.5" y2="75" stroke="#fff" stroke-width="1.3" clip-path="url(#hl)"/>
<rect x="362.30" y="5.00" width="73.80" height="78.20" fill="none" stroke="#555" stroke-width="0.9"/>
<line x1="359.50" y1="12.82" x2="362.30" y2="12.82" stroke="#333" stroke-width="0.9"/>
<text x="351.01" y="15.62" font-size="7.40" fill="#111" stroke="#111" stroke-width="0.15" textLength="8.70" lengthAdjust="spacingAndGlyphs">90</text>
<line x1="359.50" y1="44.10" x2="362.30" y2="44.10" stroke="#333" stroke-width="0.9"/>
<text x="351.18" y="46.90" font-size="7.40" fill="#111" stroke="#111" stroke-width="0.15" textLength="8.52" lengthAdjust="spacingAndGlyphs">50</text>
<line x1="359.50" y1="75.38" x2="362.30" y2="75.38" stroke="#333" stroke-width="0.9"/>
<text x="351.14" y="78.18" font-size="7.40" fill="#111" stroke="#111" stroke-width="0.15" textLength="8.57" lengthAdjust="spacingAndGlyphs">10</text>
<text transform="translate(378.50,29.20) rotate(-90)" font-size="7.40" fill="#111" stroke="#111" stroke-width="0.15" textLength="18.87" lengthAdjust="spacingAndGlyphs">meas</text>
<text transform="translate(383.10,70.33) rotate(-90)" font-size="7.40" fill="#111" stroke="#111" stroke-width="0.15" textLength="14.85" lengthAdjust="spacingAndGlyphs">long</text>
<text transform="translate(394.80,73.91) rotate(-90)" font-size="7.40" fill="#111" stroke="#111" stroke-width="0.15" textLength="14.91" lengthAdjust="spacingAndGlyphs">plan</text>
<text transform="translate(407.40,36.41) rotate(-90)" font-size="7.40" fill="#111" stroke="#111" stroke-width="0.15" textLength="11.97" lengthAdjust="spacingAndGlyphs">syn</text>
<text transform="translate(420.10,62.23) rotate(-90)" font-size="7.40" fill="#111" stroke="#111" stroke-width="0.15" textLength="8.98" lengthAdjust="spacingAndGlyphs">tid</text>
<text transform="translate(432.30,75.76) rotate(-90)" font-size="7.40" fill="#111" stroke="#111" stroke-width="0.15" textLength="9.02" lengthAdjust="spacingAndGlyphs">HF</text>
</svg></body></html>
